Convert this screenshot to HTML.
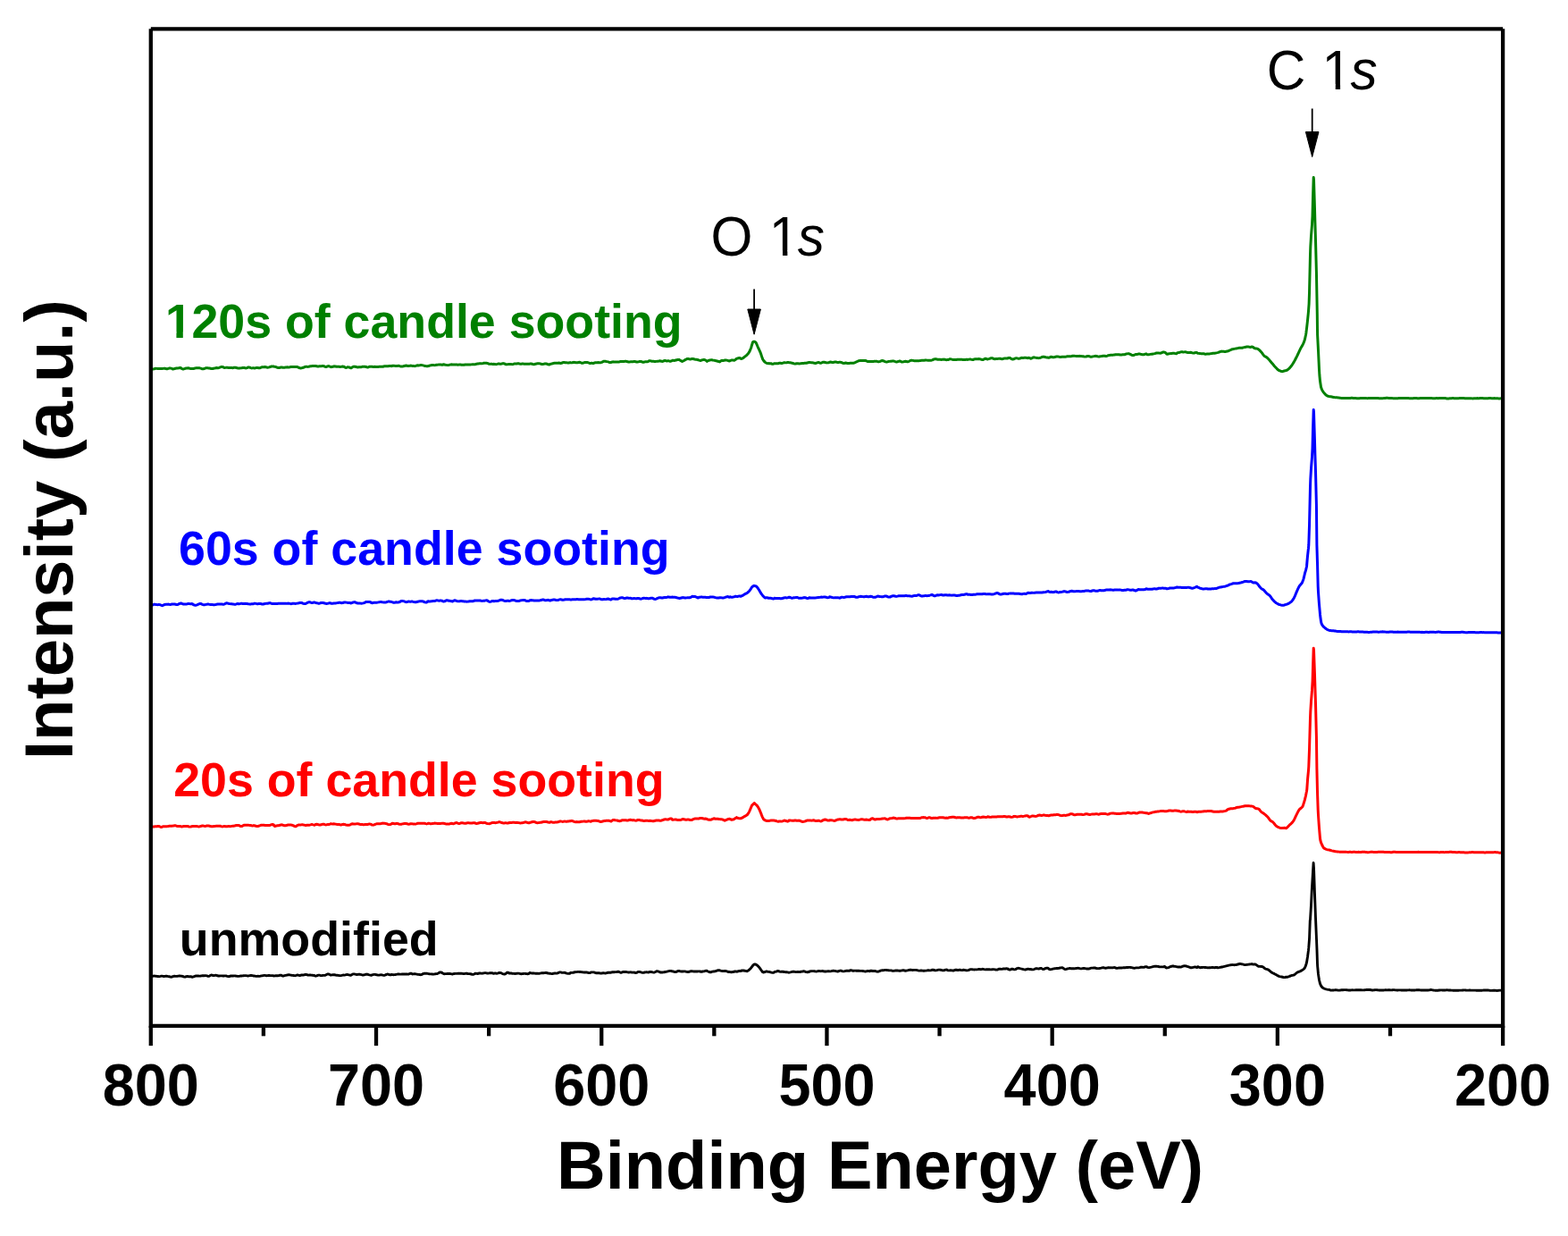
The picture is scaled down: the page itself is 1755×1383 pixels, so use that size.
<!DOCTYPE html>
<html><head><meta charset="utf-8"><title>XPS spectra</title>
<style>html,body{margin:0;padding:0;background:#fff;width:1755px;height:1383px;overflow:hidden}svg{display:block}</style>
</head><body>
<svg width="1755" height="1383" viewBox="0 0 1755 1383" font-family="'Liberation Sans', Arial, sans-serif">
<defs><clipPath id="clip0" clipPathUnits="userSpaceOnUse"><rect x="-3000.00" y="-3000" width="3002.18" height="6000"/><rect x="2.18" y="-3000" width="27.79" height="2993.52"/><rect x="12.84" y="-3000" width="7.37" height="6000"/><rect x="29.98" y="-3000" width="6000.00" height="6000"/></clipPath><clipPath id="clip1" clipPathUnits="userSpaceOnUse"><rect x="-3000.00" y="-3000" width="3068.35" height="6000"/><rect x="68.35" y="-3000" width="28.80" height="2994.50"/><rect x="80.42" y="-3000" width="5.33" height="6000"/><rect x="97.15" y="-3000" width="6000.00" height="6000"/></clipPath><clipPath id="clip2" clipPathUnits="userSpaceOnUse"><rect x="-3000.00" y="-3000" width="3064.99" height="6000"/><rect x="64.99" y="-3000" width="28.80" height="2994.50"/><rect x="77.06" y="-3000" width="5.33" height="6000"/><rect x="93.79" y="-3000" width="6000.00" height="6000"/></clipPath></defs>
<path d="M169.50 1092.93 L170.50 1092.51 L171.50 1092.14 L172.50 1092.03 L173.50 1092.08 L174.50 1092.20 L175.50 1092.41 L176.50 1092.52 L177.50 1092.57 L178.50 1092.59 L179.50 1092.43 L180.50 1092.17 L181.50 1092.14 L182.50 1092.37 L183.50 1092.47 L184.50 1092.34 L185.50 1092.22 L186.50 1092.27 L187.50 1092.43 L188.50 1092.57 L189.50 1092.72 L190.50 1092.98 L191.50 1093.18 L192.50 1093.13 L192.80 1092.88 L193.50 1092.55 L194.50 1092.30 L195.50 1092.25 L196.50 1092.35 L197.50 1092.41 L198.50 1092.31 L199.50 1092.15 L200.50 1092.04 L201.50 1092.01 L202.50 1092.08 L203.50 1092.19 L204.50 1092.41 L205.50 1092.82 L206.50 1093.14 L207.50 1093.03 L208.50 1092.63 L209.50 1092.40 L210.50 1092.55 L211.50 1092.81 L212.50 1092.81 L213.50 1092.78 L214.50 1093.02 L215.50 1093.26 L215.60 1093.22 L216.50 1092.94 L217.50 1092.58 L218.50 1092.21 L219.50 1091.94 L220.50 1091.88 L221.50 1091.95 L222.50 1092.06 L223.50 1092.11 L224.50 1092.05 L225.50 1091.90 L226.50 1091.76 L227.00 1091.72 L227.50 1091.77 L228.50 1091.74 L229.50 1091.65 L230.50 1091.67 L231.50 1091.89 L232.50 1092.24 L233.50 1092.40 L234.50 1092.06 L235.50 1091.37 L236.50 1090.98 L237.50 1091.14 L238.50 1091.52 L239.50 1091.67 L240.50 1091.45 L241.50 1091.24 L242.50 1091.41 L243.50 1091.79 L244.50 1092.01 L245.50 1091.99 L246.50 1091.87 L247.50 1091.83 L248.50 1091.92 L249.50 1092.00 L250.50 1091.98 L251.50 1091.89 L252.50 1091.88 L253.50 1092.05 L254.50 1092.33 L255.50 1092.56 L256.50 1092.54 L257.50 1092.25 L258.50 1091.95 L259.50 1091.87 L260.50 1091.95 L261.20 1091.97 L261.50 1091.91 L262.50 1091.88 L263.50 1091.94 L264.50 1092.08 L265.50 1092.26 L266.50 1092.40 L267.50 1092.37 L268.50 1092.13 L269.50 1091.94 L270.50 1091.93 L271.50 1091.91 L272.50 1091.77 L273.50 1091.66 L274.50 1091.60 L275.50 1091.66 L276.50 1091.85 L277.50 1091.95 L278.50 1091.83 L279.50 1091.62 L280.50 1091.45 L281.50 1091.42 L282.50 1091.61 L283.50 1091.92 L284.00 1092.06 L284.50 1092.02 L285.50 1092.12 L286.50 1092.35 L287.50 1092.36 L288.50 1092.23 L289.50 1092.32 L290.50 1092.38 L291.50 1092.12 L292.50 1091.82 L293.50 1091.71 L294.50 1091.57 L295.50 1091.38 L296.50 1091.41 L297.50 1091.64 L298.50 1091.77 L299.50 1091.67 L300.50 1091.54 L301.50 1091.52 L302.50 1091.59 L303.50 1091.62 L304.50 1091.61 L305.50 1091.72 L306.50 1091.91 L306.80 1091.99 L307.50 1091.91 L308.50 1091.78 L309.50 1091.73 L310.50 1091.75 L311.50 1091.71 L312.50 1091.47 L313.50 1091.14 L314.50 1091.14 L315.50 1091.66 L316.50 1092.07 L317.50 1091.95 L318.50 1091.59 L319.50 1091.33 L320.50 1091.19 L321.50 1091.01 L322.50 1090.82 L323.50 1090.75 L324.50 1090.86 L325.50 1091.06 L326.50 1091.24 L327.50 1091.37 L328.50 1091.51 L329.50 1091.65 L330.50 1091.68 L331.50 1091.41 L332.50 1091.02 L333.50 1091.01 L334.50 1091.37 L335.50 1091.52 L336.50 1091.25 L337.50 1090.95 L338.50 1090.89 L339.50 1090.93 L340.50 1090.87 L341.00 1090.67 L341.50 1090.43 L342.50 1090.40 L343.50 1090.68 L344.50 1091.03 L345.50 1091.14 L346.50 1091.03 L347.50 1090.97 L348.50 1091.08 L349.50 1091.22 L350.50 1091.31 L351.50 1091.46 L352.30 1091.70 L352.50 1091.95 L353.50 1092.07 L354.50 1091.87 L355.50 1091.41 L356.50 1091.09 L357.50 1091.18 L358.50 1091.45 L359.50 1091.61 L360.50 1091.55 L361.50 1091.40 L362.50 1091.33 L363.50 1091.31 L364.50 1091.08 L365.50 1090.51 L366.50 1089.99 L367.50 1089.88 L368.50 1090.18 L369.50 1090.69 L370.00 1091.04 L370.50 1091.00 L371.50 1090.85 L372.50 1090.81 L373.50 1090.75 L374.50 1090.78 L375.50 1091.01 L376.50 1091.19 L377.50 1091.28 L378.50 1091.42 L379.50 1091.56 L380.50 1091.65 L381.50 1091.64 L382.50 1091.44 L383.50 1091.16 L384.50 1091.06 L385.50 1091.08 L386.50 1090.90 L387.50 1090.60 L388.50 1090.47 L389.50 1090.58 L390.50 1090.80 L391.50 1091.06 L392.50 1091.28 L392.80 1091.21 L393.50 1090.73 L394.50 1090.16 L395.50 1089.87 L396.50 1089.87 L397.50 1090.09 L398.50 1090.36 L399.50 1090.48 L400.50 1090.41 L401.50 1090.25 L402.50 1090.16 L403.50 1090.35 L404.50 1090.71 L405.50 1090.95 L406.50 1091.00 L407.50 1090.87 L408.50 1090.55 L409.50 1090.23 L410.50 1090.07 L411.50 1090.24 L412.50 1090.66 L413.50 1090.93 L414.50 1091.08 L415.50 1091.27 L415.60 1091.25 L416.50 1090.95 L417.50 1090.61 L418.50 1090.40 L419.50 1090.39 L420.50 1090.55 L421.50 1090.75 L422.50 1090.95 L423.50 1091.10 L424.50 1091.06 L425.50 1090.90 L426.50 1090.77 L427.50 1090.84 L428.50 1091.13 L429.50 1091.37 L430.50 1091.27 L431.50 1090.86 L432.50 1090.34 L433.50 1090.05 L434.50 1090.18 L435.50 1090.55 L436.50 1090.78 L437.50 1090.73 L438.40 1090.51 L438.50 1090.43 L439.50 1090.57 L440.50 1090.71 L441.50 1090.67 L442.50 1090.54 L443.50 1090.37 L444.50 1090.18 L445.50 1090.03 L446.50 1090.02 L447.50 1090.09 L448.50 1090.12 L449.50 1090.05 L450.50 1089.93 L451.50 1089.88 L452.50 1089.95 L453.50 1090.04 L454.50 1090.03 L455.50 1090.02 L456.50 1090.11 L457.50 1090.00 L458.50 1089.55 L459.50 1089.21 L460.50 1089.29 L461.20 1089.67 L461.50 1089.95 L462.50 1089.89 L463.50 1089.72 L464.50 1089.72 L465.50 1089.86 L466.50 1090.07 L467.50 1090.22 L468.50 1090.32 L469.50 1090.50 L470.50 1090.70 L471.50 1090.58 L472.50 1090.14 L473.50 1089.64 L474.50 1089.28 L475.50 1089.14 L476.50 1089.18 L477.50 1089.27 L478.50 1089.39 L479.50 1089.56 L480.50 1089.77 L481.50 1089.89 L482.50 1089.89 L483.50 1089.94 L484.00 1090.04 L484.50 1090.13 L485.50 1090.12 L486.50 1089.91 L487.50 1089.70 L488.50 1089.67 L489.50 1089.57 L490.50 1089.06 L491.50 1088.36 L492.50 1087.89 L493.50 1087.85 L494.50 1088.29 L495.50 1089.02 L496.50 1089.57 L497.50 1089.72 L498.50 1089.67 L499.50 1089.61 L500.50 1089.56 L501.50 1089.53 L502.50 1089.53 L503.50 1089.54 L504.50 1089.64 L505.50 1089.86 L506.50 1089.99 L506.80 1089.90 L507.50 1089.69 L508.50 1089.47 L509.50 1089.37 L510.50 1089.39 L511.50 1089.36 L512.50 1089.25 L513.50 1089.22 L514.50 1089.28 L515.50 1089.29 L516.50 1089.24 L517.50 1089.35 L518.50 1089.57 L519.50 1089.59 L520.50 1089.32 L521.50 1089.09 L522.50 1089.25 L523.50 1089.51 L524.50 1089.58 L525.50 1089.61 L526.50 1089.76 L527.50 1090.00 L528.50 1090.27 L529.50 1090.36 L530.50 1090.05 L531.50 1089.49 L532.50 1089.22 L533.50 1089.39 L534.50 1089.49 L535.50 1089.24 L536.50 1088.98 L537.50 1089.01 L538.50 1089.17 L539.50 1089.18 L540.50 1089.04 L541.50 1088.83 L542.50 1088.64 L543.50 1088.60 L544.50 1088.80 L545.50 1089.07 L546.50 1089.11 L547.50 1088.94 L548.50 1088.77 L549.50 1088.67 L550.50 1088.70 L551.50 1088.97 L552.30 1089.27 L552.50 1089.27 L553.50 1089.06 L554.50 1089.02 L555.50 1089.18 L556.50 1089.22 L557.50 1088.95 L558.50 1088.54 L559.50 1088.33 L560.50 1088.56 L561.50 1089.08 L562.50 1089.51 L563.50 1089.82 L564.50 1090.03 L565.50 1089.80 L566.50 1089.03 L567.50 1088.29 L568.50 1088.17 L569.50 1088.63 L570.00 1089.04 L570.50 1088.99 L571.50 1088.83 L572.50 1089.03 L573.50 1089.31 L574.50 1089.36 L575.50 1089.42 L576.50 1089.53 L577.50 1089.42 L578.50 1089.21 L579.50 1089.12 L580.50 1089.15 L581.50 1089.31 L582.50 1089.57 L583.50 1089.71 L584.50 1089.61 L585.50 1089.47 L586.50 1089.39 L587.50 1089.37 L588.50 1089.46 L589.50 1089.64 L590.50 1089.76 L591.50 1089.60 L592.50 1089.07 L592.80 1088.56 L593.50 1088.56 L594.50 1088.86 L595.50 1088.98 L596.50 1088.93 L597.50 1088.94 L598.50 1089.07 L599.50 1089.22 L600.50 1089.30 L601.50 1089.32 L602.50 1089.32 L603.50 1089.23 L604.50 1089.06 L605.50 1088.89 L606.50 1088.71 L607.50 1088.65 L608.50 1088.68 L609.50 1088.62 L610.50 1088.51 L611.50 1088.53 L612.50 1088.75 L613.50 1089.06 L614.50 1089.18 L615.50 1089.13 L615.60 1089.19 L616.50 1089.44 L617.50 1089.62 L618.50 1089.48 L619.50 1089.21 L620.50 1089.06 L621.50 1089.04 L622.50 1089.12 L623.50 1089.09 L624.50 1088.73 L625.50 1088.18 L626.50 1087.84 L627.50 1087.92 L628.50 1088.21 L629.50 1088.37 L630.50 1088.33 L631.50 1088.25 L632.50 1088.41 L633.50 1088.82 L634.50 1089.18 L635.50 1089.35 L636.50 1089.42 L637.50 1089.33 L638.40 1088.96 L638.50 1088.55 L639.50 1088.39 L640.50 1088.38 L641.50 1088.28 L642.50 1088.03 L643.50 1087.78 L644.50 1087.68 L645.50 1087.58 L646.50 1087.40 L647.50 1087.36 L648.50 1087.45 L649.50 1087.54 L650.50 1087.64 L651.50 1087.74 L652.50 1087.84 L653.50 1087.94 L654.50 1087.98 L655.50 1087.97 L656.50 1088.00 L657.50 1088.18 L658.50 1088.50 L659.50 1088.67 L660.50 1088.49 L661.20 1088.14 L661.50 1087.93 L662.50 1087.86 L663.50 1087.83 L664.50 1087.92 L665.50 1088.21 L666.50 1088.55 L667.50 1088.77 L668.50 1088.73 L669.50 1088.60 L670.50 1088.70 L671.50 1088.96 L672.50 1089.07 L673.50 1088.99 L674.50 1088.81 L675.50 1088.70 L676.50 1088.84 L677.50 1089.02 L678.50 1088.87 L679.50 1088.50 L680.50 1088.27 L681.50 1088.23 L682.50 1088.23 L683.50 1088.23 L684.00 1088.17 L684.50 1087.95 L685.50 1087.80 L686.50 1087.82 L687.50 1087.80 L688.50 1087.67 L689.50 1087.59 L690.50 1087.48 L691.50 1087.27 L692.50 1087.32 L693.50 1087.79 L694.50 1088.24 L695.50 1088.20 L696.50 1087.80 L697.50 1087.47 L698.50 1087.39 L699.50 1087.43 L700.50 1087.47 L701.50 1087.63 L702.50 1087.87 L703.50 1087.98 L704.50 1087.93 L705.50 1087.82 L706.50 1087.84 L706.80 1087.97 L707.50 1088.07 L708.50 1088.09 L709.50 1088.06 L710.50 1088.25 L711.50 1088.56 L712.50 1088.39 L713.50 1087.78 L714.50 1087.35 L715.50 1087.33 L716.50 1087.58 L717.50 1087.91 L718.50 1088.21 L719.50 1088.33 L720.50 1088.21 L721.50 1088.01 L722.50 1087.84 L723.50 1087.76 L724.50 1087.84 L725.50 1087.95 L726.50 1087.81 L727.50 1087.46 L728.50 1087.33 L729.50 1087.58 L730.50 1087.93 L731.50 1088.08 L732.50 1087.94 L733.50 1087.52 L734.50 1087.00 L735.50 1086.69 L736.50 1086.82 L737.50 1087.27 L738.50 1087.74 L739.50 1088.00 L740.50 1088.05 L741.50 1088.01 L742.50 1087.91 L743.50 1087.71 L744.50 1087.51 L745.50 1087.31 L746.50 1087.07 L747.50 1086.83 L748.50 1086.59 L749.50 1086.38 L750.50 1086.35 L751.50 1086.54 L752.30 1086.75 L752.50 1086.83 L753.50 1086.98 L754.50 1087.30 L755.50 1087.55 L756.50 1087.53 L757.50 1087.18 L758.50 1086.64 L759.50 1086.34 L760.50 1086.53 L761.50 1086.87 L762.50 1087.02 L763.50 1087.03 L764.50 1086.96 L765.50 1086.84 L766.50 1086.88 L767.50 1087.14 L768.50 1087.40 L769.50 1087.51 L770.00 1087.52 L770.50 1087.45 L771.50 1087.28 L772.50 1086.96 L773.50 1086.67 L774.50 1086.68 L775.50 1086.91 L776.50 1087.03 L777.50 1087.02 L778.50 1087.02 L779.50 1087.02 L780.50 1086.97 L781.50 1086.87 L782.50 1086.83 L783.50 1086.99 L784.50 1087.23 L785.50 1087.23 L786.50 1087.03 L787.50 1086.86 L788.50 1086.70 L789.50 1086.45 L790.00 1086.18 L790.50 1086.15 L791.50 1086.47 L792.50 1086.99 L793.50 1087.47 L794.50 1087.75 L795.50 1087.75 L796.50 1087.48 L797.50 1087.12 L798.50 1086.97 L799.50 1086.94 L800.50 1086.76 L801.50 1086.41 L802.50 1086.03 L803.50 1085.72 L804.50 1085.58 L805.50 1085.75 L806.50 1086.11 L807.50 1086.40 L808.50 1086.54 L809.50 1086.64 L810.00 1086.65 L810.50 1086.48 L811.50 1086.37 L812.50 1086.49 L813.50 1086.85 L814.50 1087.25 L815.50 1087.47 L816.50 1087.55 L817.50 1087.64 L818.00 1087.71 L818.50 1087.73 L819.50 1087.68 L820.50 1087.53 L821.50 1087.24 L822.50 1086.99 L823.50 1087.02 L824.50 1087.19 L825.50 1087.06 L826.50 1086.68 L827.50 1086.48 L828.50 1086.53 L829.10 1086.50 L829.50 1086.24 L830.50 1086.00 L831.50 1085.96 L832.50 1086.06 L833.50 1086.20 L834.50 1086.36 L835.50 1086.59 L836.30 1086.75 L836.50 1086.58 L837.50 1086.00 L838.50 1085.21 L839.50 1084.21 L840.30 1083.40 L840.50 1083.19 L841.50 1081.81 L842.50 1080.50 L843.50 1079.43 L844.30 1078.85 L844.50 1078.88 L845.50 1079.04 L846.50 1079.46 L847.50 1080.20 L848.50 1081.10 L849.50 1082.16 L849.90 1082.60 L850.50 1083.35 L851.50 1084.82 L852.00 1085.50 L852.50 1086.22 L853.50 1087.68 L854.30 1087.96 L854.50 1087.82 L855.50 1087.80 L856.50 1087.44 L857.50 1087.01 L857.90 1086.91 L858.50 1087.04 L859.50 1087.21 L860.50 1087.34 L861.50 1087.54 L862.50 1087.85 L863.50 1088.17 L864.50 1088.41 L865.50 1088.33 L866.50 1087.84 L867.50 1087.32 L868.50 1087.11 L869.50 1086.99 L869.80 1086.67 L870.50 1086.43 L871.50 1086.68 L872.50 1087.16 L873.50 1087.34 L874.50 1087.21 L875.50 1087.14 L876.50 1087.26 L877.50 1087.46 L878.50 1087.65 L879.50 1087.76 L880.50 1087.79 L881.50 1087.91 L882.50 1088.11 L882.80 1088.21 L883.50 1088.12 L884.50 1087.91 L885.50 1087.64 L886.50 1087.34 L887.50 1087.16 L888.50 1087.21 L889.50 1087.44 L890.50 1087.66 L891.50 1087.65 L892.50 1087.46 L893.50 1087.49 L894.50 1087.65 L895.50 1087.54 L896.50 1087.26 L897.50 1087.12 L898.50 1086.96 L899.50 1086.78 L900.50 1086.90 L901.50 1087.28 L902.50 1087.62 L903.50 1087.74 L904.50 1087.68 L905.50 1087.48 L905.60 1087.15 L906.50 1086.83 L907.50 1086.70 L908.50 1086.66 L909.50 1086.64 L910.50 1086.67 L911.50 1086.74 L912.50 1086.92 L913.50 1087.08 L914.50 1086.93 L915.50 1086.57 L916.50 1086.44 L917.50 1086.57 L918.50 1086.68 L919.50 1086.62 L920.50 1086.55 L921.50 1086.70 L922.50 1086.95 L923.50 1087.04 L924.50 1086.97 L925.50 1086.85 L926.50 1086.81 L927.50 1086.81 L928.40 1086.84 L928.50 1086.92 L929.50 1086.91 L930.50 1086.69 L931.50 1086.40 L932.50 1086.28 L933.50 1086.32 L934.50 1086.41 L935.50 1086.63 L936.50 1086.92 L937.50 1087.01 L938.50 1086.77 L939.50 1086.34 L940.50 1086.07 L941.50 1086.18 L942.50 1086.54 L943.50 1086.87 L944.50 1086.90 L945.50 1086.65 L946.50 1086.32 L947.50 1086.14 L948.50 1086.19 L949.50 1086.32 L950.50 1086.30 L951.20 1086.04 L951.50 1085.75 L952.50 1085.71 L953.50 1085.96 L954.50 1086.23 L955.50 1086.28 L956.50 1086.16 L957.50 1086.10 L958.50 1086.19 L959.50 1086.30 L960.50 1086.31 L961.50 1086.30 L962.50 1086.34 L963.50 1086.38 L964.50 1086.37 L965.50 1086.45 L966.50 1086.67 L967.50 1086.92 L968.50 1087.03 L969.50 1086.86 L970.50 1086.53 L971.50 1086.40 L972.50 1086.62 L973.50 1086.69 L974.00 1086.36 L974.50 1086.10 L975.50 1086.24 L976.50 1086.49 L977.50 1086.49 L978.50 1086.39 L979.50 1086.48 L980.50 1086.77 L981.50 1087.09 L982.50 1087.20 L983.50 1087.00 L984.50 1086.61 L985.50 1086.21 L986.50 1085.87 L987.50 1085.70 L988.50 1085.69 L989.50 1085.60 L990.50 1085.40 L991.50 1085.35 L992.50 1085.49 L993.50 1085.65 L994.50 1085.77 L995.50 1085.87 L996.50 1085.91 L996.80 1085.87 L997.50 1085.93 L998.50 1086.22 L999.50 1086.40 L1000.50 1086.31 L1001.50 1086.14 L1002.50 1085.96 L1003.50 1085.85 L1004.50 1085.94 L1005.50 1086.15 L1006.50 1086.28 L1007.50 1086.26 L1008.50 1086.08 L1009.50 1085.82 L1010.50 1085.65 L1011.50 1085.72 L1012.50 1086.02 L1013.50 1086.25 L1014.50 1086.15 L1015.50 1085.89 L1016.50 1085.65 L1017.50 1085.33 L1018.50 1085.10 L1019.50 1085.19 L1020.50 1085.41 L1021.50 1085.50 L1022.50 1085.42 L1023.50 1085.36 L1024.50 1085.38 L1025.50 1085.42 L1026.50 1085.60 L1027.50 1085.90 L1028.50 1086.12 L1029.50 1086.10 L1030.50 1085.96 L1031.50 1085.96 L1032.50 1086.11 L1033.50 1086.19 L1034.50 1086.19 L1035.50 1086.16 L1036.50 1086.11 L1037.50 1085.94 L1038.50 1085.73 L1039.50 1085.74 L1040.50 1085.87 L1041.50 1085.84 L1042.30 1085.67 L1042.50 1085.45 L1043.50 1085.28 L1044.50 1085.28 L1045.50 1085.49 L1046.50 1085.73 L1047.50 1085.83 L1048.50 1085.67 L1049.50 1085.36 L1050.50 1085.17 L1051.50 1085.12 L1052.50 1085.20 L1053.50 1085.41 L1054.50 1085.71 L1055.50 1085.90 L1056.50 1085.77 L1057.50 1085.42 L1058.50 1085.16 L1059.50 1085.06 L1060.00 1085.19 L1060.50 1085.58 L1061.50 1085.89 L1062.50 1085.89 L1063.50 1085.77 L1064.50 1085.76 L1065.50 1085.87 L1066.50 1086.04 L1067.50 1085.98 L1068.50 1085.55 L1069.50 1085.18 L1070.50 1085.24 L1071.50 1085.51 L1072.50 1085.53 L1073.50 1085.32 L1074.50 1085.27 L1075.50 1085.44 L1076.50 1085.57 L1077.50 1085.48 L1078.50 1085.30 L1079.50 1085.35 L1080.50 1085.59 L1081.50 1085.77 L1082.50 1085.83 L1082.80 1085.81 L1083.50 1085.66 L1084.50 1085.35 L1085.50 1084.94 L1086.50 1084.61 L1087.50 1084.58 L1088.50 1084.77 L1089.50 1084.90 L1090.50 1084.93 L1091.50 1084.91 L1092.50 1084.89 L1093.50 1084.85 L1094.50 1084.69 L1095.50 1084.47 L1096.50 1084.49 L1097.50 1084.69 L1098.50 1084.57 L1099.50 1084.30 L1100.50 1084.38 L1101.50 1084.68 L1102.50 1084.83 L1103.50 1084.79 L1104.50 1084.69 L1105.50 1084.67 L1105.60 1084.70 L1106.50 1084.71 L1107.50 1084.78 L1108.50 1084.89 L1109.50 1084.87 L1110.50 1084.71 L1111.50 1084.61 L1112.50 1084.66 L1113.50 1084.81 L1114.50 1085.01 L1115.50 1085.14 L1116.50 1084.96 L1117.50 1084.47 L1118.50 1084.11 L1119.50 1084.19 L1120.50 1084.39 L1121.50 1084.33 L1122.50 1084.05 L1123.50 1083.90 L1124.50 1083.96 L1125.50 1083.95 L1126.50 1083.80 L1127.50 1083.83 L1128.40 1084.15 L1128.50 1084.64 L1129.50 1085.01 L1130.50 1085.03 L1131.50 1084.63 L1132.50 1084.18 L1133.50 1084.21 L1134.50 1084.65 L1135.50 1084.89 L1136.50 1084.66 L1137.50 1084.14 L1138.50 1083.58 L1139.50 1083.28 L1140.50 1083.38 L1141.50 1083.66 L1142.50 1083.89 L1143.50 1084.06 L1144.50 1084.32 L1145.50 1084.66 L1146.50 1084.91 L1147.50 1084.95 L1148.50 1084.77 L1149.50 1084.42 L1150.50 1084.18 L1151.20 1084.20 L1151.50 1084.34 L1152.50 1084.45 L1153.50 1084.55 L1154.50 1084.73 L1155.50 1084.92 L1156.50 1084.87 L1157.50 1084.49 L1158.50 1084.04 L1159.50 1083.72 L1160.50 1083.66 L1161.50 1083.87 L1162.50 1084.00 L1163.50 1083.75 L1164.50 1083.44 L1165.50 1083.55 L1166.50 1084.08 L1167.50 1084.51 L1168.50 1084.40 L1169.50 1083.88 L1170.50 1083.42 L1171.50 1083.18 L1172.50 1083.21 L1173.50 1083.62 L1174.00 1084.23 L1174.50 1084.62 L1175.50 1084.70 L1176.50 1084.60 L1177.50 1084.35 L1178.50 1084.06 L1179.50 1083.84 L1180.50 1083.72 L1181.50 1083.60 L1182.50 1083.50 L1183.50 1083.46 L1184.50 1083.43 L1185.50 1083.26 L1186.50 1083.03 L1187.50 1082.86 L1188.50 1082.78 L1189.50 1083.00 L1190.50 1083.65 L1191.50 1084.38 L1192.50 1084.67 L1193.50 1084.41 L1194.50 1084.02 L1195.50 1083.81 L1196.50 1083.59 L1196.80 1083.40 L1197.50 1083.50 L1198.50 1083.68 L1199.50 1083.72 L1200.50 1083.74 L1201.50 1083.82 L1202.50 1083.82 L1203.50 1083.64 L1204.50 1083.45 L1205.50 1083.36 L1206.50 1083.30 L1207.50 1083.37 L1208.50 1083.65 L1209.50 1083.85 L1210.50 1083.84 L1211.50 1083.69 L1212.50 1083.54 L1213.50 1083.51 L1214.50 1083.65 L1215.50 1083.88 L1216.50 1084.04 L1217.50 1084.06 L1218.50 1084.01 L1219.50 1083.81 L1220.50 1083.39 L1221.50 1083.14 L1222.50 1083.13 L1223.50 1083.04 L1224.50 1082.90 L1225.50 1082.98 L1226.50 1083.24 L1227.50 1083.47 L1228.50 1083.59 L1229.50 1083.62 L1230.50 1083.52 L1231.50 1083.33 L1232.50 1083.10 L1233.50 1082.82 L1234.50 1082.63 L1235.50 1082.78 L1236.50 1083.11 L1237.50 1083.28 L1238.50 1083.13 L1239.50 1082.81 L1240.50 1082.62 L1241.50 1082.73 L1242.30 1082.89 L1242.50 1082.87 L1243.50 1082.82 L1244.50 1082.83 L1245.50 1082.77 L1246.50 1082.58 L1247.50 1082.56 L1248.50 1082.95 L1249.50 1083.36 L1250.50 1083.36 L1251.50 1083.10 L1252.50 1082.93 L1253.50 1082.92 L1254.50 1082.96 L1255.50 1082.97 L1256.50 1082.91 L1257.50 1082.81 L1258.50 1082.80 L1259.50 1082.80 L1260.00 1082.68 L1260.50 1082.56 L1261.50 1082.53 L1262.50 1082.46 L1263.50 1082.39 L1264.50 1082.41 L1265.50 1082.49 L1266.50 1082.61 L1267.50 1082.86 L1268.50 1083.18 L1269.50 1083.31 L1270.50 1083.14 L1271.50 1082.91 L1272.50 1082.83 L1273.50 1082.88 L1274.50 1082.87 L1275.50 1082.62 L1276.50 1082.28 L1277.50 1082.11 L1278.50 1082.19 L1279.50 1082.33 L1280.50 1082.25 L1281.50 1081.92 L1282.50 1081.63 L1282.80 1081.62 L1283.50 1081.91 L1284.50 1082.38 L1285.50 1082.67 L1286.50 1082.63 L1287.50 1082.41 L1288.50 1082.19 L1289.50 1081.93 L1290.50 1081.62 L1291.50 1081.36 L1292.50 1081.22 L1293.50 1081.23 L1294.50 1081.29 L1295.50 1081.35 L1296.50 1081.49 L1297.50 1081.71 L1298.50 1081.87 L1299.50 1081.91 L1300.50 1081.90 L1301.50 1081.85 L1302.50 1081.72 L1303.30 1081.53 L1303.50 1081.50 L1304.50 1082.24 L1305.50 1083.00 L1305.60 1083.05 L1306.50 1082.91 L1307.50 1082.67 L1308.50 1082.29 L1309.50 1081.84 L1310.50 1081.48 L1311.50 1081.22 L1312.50 1081.02 L1313.50 1081.01 L1313.60 1081.22 L1314.50 1081.31 L1315.50 1081.35 L1316.50 1081.57 L1317.50 1081.91 L1318.50 1082.03 L1319.50 1081.93 L1320.50 1081.96 L1321.50 1082.05 L1322.50 1081.81 L1323.50 1081.33 L1324.50 1080.97 L1325.50 1080.81 L1326.50 1080.82 L1327.50 1080.99 L1328.40 1081.22 L1328.50 1081.41 L1329.50 1081.66 L1330.50 1081.95 L1331.50 1082.29 L1332.50 1082.63 L1332.90 1082.79 L1333.50 1082.80 L1334.50 1082.63 L1335.50 1082.36 L1336.50 1082.10 L1337.50 1082.01 L1338.50 1082.18 L1339.50 1082.54 L1339.80 1082.54 L1340.50 1081.72 L1341.50 1081.95 L1342.50 1082.46 L1343.50 1082.80 L1343.60 1082.65 L1344.50 1082.49 L1345.50 1082.44 L1346.50 1082.42 L1347.50 1082.40 L1348.50 1082.43 L1349.50 1082.52 L1350.50 1082.63 L1351.20 1082.76 L1351.50 1082.85 L1352.50 1082.82 L1353.50 1082.74 L1354.50 1082.70 L1355.50 1082.59 L1356.50 1082.47 L1357.50 1082.50 L1358.50 1082.66 L1359.50 1082.71 L1360.50 1082.55 L1361.50 1082.43 L1362.50 1082.55 L1362.60 1082.81 L1363.50 1082.85 L1364.50 1082.65 L1365.50 1082.40 L1366.50 1082.20 L1367.50 1082.04 L1368.30 1081.94 L1368.50 1081.90 L1369.50 1081.67 L1370.50 1081.43 L1371.50 1081.18 L1372.50 1080.92 L1373.50 1080.65 L1374.50 1080.36 L1375.50 1080.09 L1376.50 1079.89 L1377.40 1079.77 L1377.50 1079.74 L1378.50 1079.59 L1379.50 1079.57 L1380.50 1079.66 L1381.50 1079.70 L1382.50 1079.64 L1383.50 1079.49 L1384.50 1079.26 L1385.50 1079.00 L1386.50 1078.74 L1387.50 1078.54 L1388.50 1078.54 L1388.80 1078.67 L1389.50 1078.76 L1390.50 1078.92 L1391.50 1079.19 L1392.50 1079.46 L1393.50 1079.59 L1394.50 1079.53 L1395.50 1079.39 L1396.50 1079.27 L1397.50 1079.12 L1398.50 1078.98 L1399.50 1078.90 L1400.00 1078.85 L1400.50 1078.76 L1401.50 1078.78 L1402.50 1078.96 L1403.50 1079.07 L1404.50 1079.01 L1404.60 1078.89 L1405.50 1079.24 L1406.50 1079.91 L1407.50 1080.65 L1408.50 1081.20 L1409.30 1081.33 L1409.50 1081.34 L1410.50 1081.42 L1411.50 1081.54 L1412.10 1081.54 L1412.50 1081.52 L1413.50 1081.95 L1414.50 1082.73 L1415.50 1083.51 L1416.20 1083.98 L1416.50 1084.08 L1417.50 1084.33 L1418.50 1084.57 L1419.10 1084.81 L1419.50 1085.01 L1420.50 1085.73 L1421.50 1086.62 L1422.50 1087.48 L1423.10 1087.90 L1423.50 1088.14 L1424.50 1088.69 L1425.50 1089.17 L1426.50 1089.66 L1426.60 1089.72 L1427.50 1090.20 L1428.50 1090.78 L1429.50 1091.37 L1430.50 1091.93 L1431.50 1092.39 L1432.40 1092.66 L1432.50 1092.65 L1433.50 1092.83 L1434.50 1093.02 L1435.50 1093.24 L1436.50 1093.48 L1437.50 1093.61 L1438.50 1093.48 L1439.30 1093.26 L1439.50 1093.22 L1440.50 1093.24 L1441.50 1093.06 L1442.50 1092.74 L1443.50 1092.39 L1444.00 1092.11 L1444.50 1091.82 L1445.50 1091.53 L1446.50 1091.34 L1447.50 1091.12 L1448.00 1091.02 L1448.50 1090.85 L1449.50 1090.13 L1450.50 1089.24 L1451.50 1088.39 L1452.10 1088.00 L1452.50 1087.81 L1453.50 1087.39 L1454.50 1087.02 L1455.50 1086.63 L1456.50 1086.13 L1456.70 1086.01 L1457.50 1085.54 L1458.50 1084.87 L1459.50 1084.00 L1460.20 1083.20 L1460.50 1082.75 L1461.50 1080.45 L1462.50 1077.00 L1463.50 1070.82 L1463.60 1070.10 L1464.50 1063.15 L1464.80 1060.20 L1465.50 1050.53 L1465.60 1048.70 L1466.30 1029.60 L1466.35 1029.60 L1466.50 1029.20 L1467.50 1012.57 L1468.20 997.70 L1468.50 992.57 L1469.50 975.59 L1469.60 973.90 L1470.10 965.50 L1470.50 971.68 L1470.60 973.90 L1471.40 997.70 L1471.50 1000.50 L1472.50 1027.07 L1472.60 1029.60 L1473.50 1050.74 L1474.00 1063.10 L1474.50 1078.51 L1474.60 1080.50 L1475.50 1090.01 L1475.80 1092.10 L1476.50 1096.49 L1477.50 1100.70 L1478.50 1102.87 L1479.50 1104.40 L1480.40 1105.20 L1480.50 1105.26 L1481.50 1105.80 L1482.50 1106.24 L1483.50 1106.60 L1484.50 1106.92 L1485.50 1107.19 L1486.50 1107.35 L1487.50 1107.39 L1487.70 1107.48 L1488.50 1107.74 L1489.50 1107.97 L1490.50 1108.07 L1491.50 1108.04 L1492.50 1107.96 L1493.50 1107.87 L1494.50 1107.80 L1495.50 1107.77 L1496.50 1107.84 L1497.50 1108.00 L1498.50 1108.12 L1499.50 1108.11 L1500.00 1107.98 L1500.50 1107.86 L1501.50 1107.77 L1502.50 1107.71 L1503.50 1107.68 L1504.00 1107.65 L1504.50 1107.61 L1505.50 1107.58 L1506.50 1107.63 L1507.50 1107.76 L1508.50 1107.92 L1509.50 1108.01 L1510.50 1108.01 L1511.50 1107.94 L1512.50 1107.85 L1513.50 1107.81 L1514.50 1107.84 L1515.50 1107.90 L1516.50 1107.87 L1517.50 1107.77 L1518.50 1107.72 L1519.50 1107.77 L1520.50 1107.81 L1521.50 1107.80 L1522.50 1107.77 L1523.50 1107.77 L1524.50 1107.83 L1525.50 1107.88 L1526.50 1107.83 L1527.50 1107.70 L1528.50 1107.59 L1529.50 1107.54 L1530.50 1107.54 L1531.50 1107.55 L1532.50 1107.50 L1533.50 1107.52 L1534.50 1107.72 L1535.50 1107.94 L1536.50 1108.00 L1537.50 1107.90 L1538.50 1107.73 L1539.50 1107.59 L1540.50 1107.61 L1541.50 1107.76 L1542.50 1107.91 L1543.50 1107.99 L1544.50 1108.00 L1545.50 1108.00 L1546.50 1108.03 L1547.50 1108.04 L1548.50 1107.98 L1549.50 1107.88 L1550.50 1107.82 L1551.50 1107.82 L1552.50 1107.83 L1553.50 1107.79 L1554.50 1107.74 L1555.50 1107.75 L1556.50 1107.84 L1557.50 1107.89 L1558.50 1107.77 L1559.50 1107.63 L1560.50 1107.67 L1561.50 1107.84 L1562.50 1107.92 L1563.50 1107.94 L1564.50 1107.95 L1565.50 1107.91 L1566.50 1107.88 L1567.50 1107.92 L1568.50 1107.95 L1569.50 1107.95 L1570.50 1107.94 L1571.50 1107.95 L1572.50 1107.98 L1573.50 1108.01 L1574.50 1107.99 L1575.50 1107.92 L1576.50 1107.84 L1577.50 1107.81 L1578.50 1107.88 L1579.50 1107.97 L1580.50 1108.01 L1581.50 1108.00 L1582.50 1107.98 L1583.50 1107.93 L1584.50 1107.87 L1585.50 1107.79 L1586.50 1107.71 L1587.50 1107.69 L1588.50 1107.75 L1589.50 1107.86 L1590.50 1107.94 L1591.50 1107.98 L1592.50 1108.03 L1593.50 1108.05 L1594.50 1108.04 L1595.50 1108.04 L1596.50 1108.06 L1597.50 1108.04 L1598.50 1107.98 L1599.50 1107.92 L1600.00 1107.82 L1600.50 1107.65 L1601.50 1107.56 L1602.50 1107.66 L1603.50 1107.86 L1604.50 1108.02 L1605.50 1108.12 L1606.50 1108.21 L1607.50 1108.29 L1608.50 1108.31 L1609.50 1108.20 L1610.50 1108.06 L1611.50 1107.97 L1612.50 1107.91 L1613.50 1107.89 L1614.50 1107.93 L1615.50 1108.00 L1616.50 1108.04 L1617.50 1107.98 L1618.50 1107.86 L1619.50 1107.81 L1620.50 1107.85 L1621.50 1107.96 L1622.50 1108.04 L1623.50 1108.07 L1624.50 1108.09 L1625.50 1108.17 L1626.50 1108.28 L1627.50 1108.32 L1628.50 1108.29 L1629.50 1108.25 L1630.50 1108.25 L1631.50 1108.23 L1632.50 1108.20 L1633.50 1108.17 L1634.50 1108.12 L1635.50 1108.08 L1636.50 1108.06 L1637.50 1107.99 L1638.50 1107.88 L1639.50 1107.88 L1640.50 1108.02 L1641.50 1108.15 L1642.50 1108.14 L1643.50 1108.08 L1644.50 1108.07 L1645.50 1108.07 L1646.50 1108.08 L1647.50 1108.12 L1648.50 1108.16 L1649.50 1108.12 L1650.50 1108.09 L1651.50 1108.18 L1652.50 1108.27 L1653.50 1108.26 L1654.50 1108.23 L1655.50 1108.24 L1656.50 1108.26 L1657.50 1108.27 L1658.50 1108.21 L1659.50 1108.11 L1660.50 1108.07 L1661.50 1108.07 L1662.50 1108.05 L1663.50 1107.96 L1664.50 1107.91 L1665.50 1107.97 L1666.50 1108.13 L1667.50 1108.28 L1668.50 1108.34 L1669.50 1108.35 L1670.50 1108.31 L1671.50 1108.22 L1672.50 1108.18 L1673.50 1108.24 L1674.50 1108.37 L1675.50 1108.43 L1676.50 1108.36 L1677.50 1108.23 L1678.50 1108.16 L1679.50 1108.17 L1680.50 1108.19 L1681.50 1108.19 L1682.00 1108.18" fill="none" stroke="#000000" stroke-width="2.90" stroke-linejoin="round" stroke-linecap="round"/>
<path d="M169.50 925.12 L170.50 924.99 L171.50 924.94 L172.50 924.93 L173.50 924.81 L174.50 924.73 L175.50 924.68 L176.50 924.53 L177.50 924.48 L178.50 924.78 L179.50 925.28 L180.50 925.49 L181.50 925.20 L182.50 924.82 L183.50 924.69 L184.50 924.72 L185.50 924.82 L186.50 924.83 L187.50 924.64 L188.50 924.42 L189.50 924.33 L190.50 924.35 L191.50 924.33 L192.50 924.24 L192.80 924.18 L193.50 924.11 L194.50 923.93 L195.50 923.77 L196.50 923.84 L197.50 924.19 L198.50 924.56 L199.50 924.59 L200.50 924.38 L201.50 924.45 L202.50 924.81 L203.50 925.00 L204.50 924.82 L205.50 924.56 L206.50 924.51 L207.50 924.58 L208.50 924.56 L209.50 924.49 L210.50 924.61 L211.50 924.96 L212.50 925.12 L213.50 924.95 L214.50 924.70 L215.50 924.50 L215.60 924.42 L216.50 924.54 L217.50 924.62 L218.50 924.53 L219.50 924.46 L220.50 924.60 L221.50 924.83 L222.50 924.89 L223.50 924.77 L224.50 924.57 L225.50 924.29 L226.50 924.05 L227.50 924.10 L228.50 924.32 L229.50 924.41 L230.50 924.26 L231.50 924.07 L232.50 924.02 L233.50 924.08 L234.50 924.26 L235.50 924.59 L236.50 924.80 L237.50 924.83 L238.40 924.78 L238.50 924.67 L239.50 924.55 L240.50 924.48 L241.50 924.35 L242.50 924.17 L243.50 924.17 L244.50 924.19 L245.50 924.13 L246.50 924.27 L247.50 924.64 L248.50 924.93 L249.50 924.87 L250.50 924.58 L251.50 924.52 L252.50 924.75 L253.50 924.85 L254.50 924.70 L255.50 924.60 L256.50 924.62 L257.50 924.64 L258.50 924.58 L259.50 924.39 L260.50 924.21 L261.20 924.22 L261.50 924.28 L262.50 924.10 L263.50 923.81 L264.50 923.57 L265.50 923.51 L266.50 923.48 L266.90 923.44 L267.50 923.63 L268.50 924.13 L269.50 924.60 L270.50 924.58 L271.50 924.07 L272.50 923.54 L273.50 923.28 L274.50 923.22 L275.50 923.19 L276.50 923.19 L277.50 923.26 L278.50 923.35 L279.50 923.39 L280.50 923.51 L281.50 923.81 L282.50 923.95 L283.50 923.74 L284.00 923.57 L284.50 923.71 L285.50 923.97 L286.50 924.23 L287.50 924.46 L288.50 924.48 L289.50 924.21 L290.50 923.87 L291.50 923.57 L292.50 923.32 L293.50 923.20 L294.50 923.21 L295.50 923.31 L296.50 923.50 L297.50 923.61 L298.50 923.55 L299.50 923.48 L300.50 923.53 L301.50 923.51 L302.50 923.21 L303.50 922.83 L304.50 922.56 L305.50 922.58 L306.50 923.15 L306.80 924.00 L307.50 924.41 L308.50 924.23 L309.50 923.90 L310.50 923.77 L311.50 923.74 L312.50 923.59 L313.50 923.25 L314.50 922.89 L315.50 922.82 L316.50 923.16 L317.50 923.56 L318.50 923.75 L319.50 923.76 L320.50 923.60 L321.50 923.28 L322.50 923.07 L323.50 923.02 L324.50 922.94 L325.50 922.92 L326.50 923.16 L327.50 923.52 L328.50 923.90 L329.50 924.42 L330.50 924.76 L331.50 924.48 L332.50 923.76 L333.50 923.20 L334.50 923.09 L335.50 923.12 L336.50 922.99 L337.50 922.87 L338.50 922.87 L339.50 922.94 L340.50 923.13 L341.50 923.43 L342.50 923.52 L343.50 923.32 L344.50 923.14 L345.50 923.16 L346.50 923.14 L347.50 922.87 L348.50 922.57 L349.50 922.58 L350.50 922.88 L351.50 923.15 L352.30 923.16 L352.50 922.85 L353.50 922.40 L354.50 922.22 L355.50 922.47 L356.50 922.88 L357.50 923.08 L358.50 923.04 L359.50 922.82 L360.50 922.43 L361.50 922.14 L362.50 922.23 L363.50 922.60 L364.50 922.88 L365.50 922.81 L366.50 922.60 L367.50 922.53 L368.50 922.41 L369.50 922.11 L370.00 921.84 L370.50 921.78 L371.50 921.88 L372.50 921.88 L373.50 921.82 L374.50 921.92 L375.50 922.15 L376.50 922.34 L377.50 922.47 L378.50 922.48 L379.50 922.49 L380.50 922.72 L381.50 922.93 L382.50 922.76 L383.50 922.41 L384.50 922.26 L385.50 922.41 L386.50 922.78 L387.50 923.12 L388.50 923.28 L389.50 923.29 L390.50 923.21 L391.50 923.02 L392.50 922.67 L392.80 922.24 L393.50 921.92 L394.50 921.79 L395.50 921.92 L396.50 922.12 L397.50 922.09 L398.50 921.85 L399.50 921.63 L400.50 921.65 L401.50 921.94 L402.50 922.27 L403.50 922.48 L404.50 922.57 L405.50 922.60 L406.50 922.66 L407.50 922.65 L408.50 922.57 L409.50 922.56 L410.50 922.59 L411.50 922.46 L412.50 922.13 L413.50 921.93 L414.50 922.12 L415.50 922.46 L415.60 922.74 L416.50 923.00 L417.50 923.13 L418.50 922.95 L419.50 922.54 L420.50 922.12 L421.50 921.85 L422.50 921.76 L423.50 921.77 L424.50 921.78 L425.50 921.70 L426.50 921.50 L427.50 921.25 L428.50 921.12 L429.50 921.17 L430.50 921.28 L431.50 921.41 L432.50 921.63 L433.50 922.01 L434.50 922.43 L435.50 922.63 L436.50 922.50 L437.50 922.24 L438.40 921.85 L438.50 921.36 L439.50 921.17 L440.50 921.43 L441.50 921.70 L442.50 921.69 L443.50 921.47 L444.50 921.33 L445.50 921.59 L446.50 922.08 L447.50 922.35 L448.50 922.34 L449.50 922.18 L450.50 921.90 L451.50 921.68 L452.50 921.57 L453.50 921.51 L454.50 921.55 L455.50 921.73 L456.50 921.99 L457.50 922.15 L458.50 922.02 L459.50 921.75 L460.50 921.66 L461.20 921.75 L461.50 921.82 L462.50 921.91 L463.50 922.06 L464.50 922.11 L465.50 921.94 L466.50 921.61 L467.50 921.25 L468.50 921.13 L469.50 921.22 L470.50 921.22 L471.50 921.16 L472.50 921.17 L473.50 921.20 L474.50 921.18 L475.50 921.28 L476.50 921.66 L477.50 921.92 L478.50 921.63 L479.50 921.25 L480.50 921.34 L481.50 921.65 L482.50 921.74 L483.50 921.59 L484.00 921.50 L484.50 921.51 L485.50 921.32 L486.50 921.09 L487.50 921.14 L488.50 921.34 L489.50 921.46 L490.50 921.48 L491.50 921.49 L492.50 921.48 L493.50 921.39 L494.50 921.23 L495.50 921.16 L496.50 921.29 L497.50 921.54 L498.50 921.79 L499.50 921.93 L500.50 921.97 L501.50 922.01 L502.50 921.98 L503.50 921.72 L504.50 921.39 L505.50 921.26 L506.50 921.44 L506.80 921.70 L507.50 921.71 L508.50 921.36 L509.50 920.85 L510.50 920.58 L511.50 920.74 L512.50 921.20 L513.50 921.59 L514.50 921.47 L515.50 920.98 L516.50 920.69 L517.50 920.73 L518.50 920.92 L519.50 921.16 L520.50 921.34 L521.50 921.25 L522.50 920.88 L523.50 920.63 L524.50 920.69 L525.50 920.89 L526.50 921.01 L527.50 921.02 L528.50 920.96 L529.50 920.82 L530.50 920.69 L531.50 920.83 L532.50 921.24 L533.50 921.52 L534.50 921.35 L535.50 920.99 L536.50 920.69 L537.50 920.44 L538.50 920.36 L539.50 920.54 L540.50 920.65 L541.50 920.48 L542.50 920.41 L543.50 920.76 L544.50 921.20 L545.50 921.45 L546.50 921.62 L547.50 921.71 L548.50 921.51 L549.50 921.04 L550.50 920.62 L551.50 920.44 L552.30 920.43 L552.50 920.48 L553.50 920.56 L554.50 920.65 L555.50 920.59 L556.50 920.38 L557.50 920.09 L558.50 919.81 L559.50 919.84 L560.50 920.17 L561.50 920.56 L562.50 920.82 L563.50 920.93 L564.50 920.89 L565.50 920.83 L566.50 920.87 L567.50 920.97 L568.50 920.95 L569.50 920.78 L570.00 920.54 L570.50 920.45 L571.50 920.58 L572.50 920.59 L573.50 920.34 L574.50 920.19 L575.50 920.33 L576.50 920.46 L577.50 920.40 L578.50 920.37 L579.50 920.47 L580.50 920.64 L581.50 920.82 L582.50 920.91 L583.50 920.82 L584.50 920.70 L585.50 920.55 L586.50 920.26 L587.50 919.92 L588.50 919.83 L589.50 920.15 L590.50 920.58 L591.50 920.75 L592.50 920.68 L592.80 920.50 L593.50 920.28 L594.50 920.03 L595.50 919.71 L596.50 919.46 L597.50 919.49 L598.50 919.73 L599.50 920.14 L600.50 920.62 L601.50 920.82 L602.50 920.62 L603.50 920.40 L604.50 920.33 L605.50 920.21 L606.50 919.95 L607.50 919.68 L608.50 919.57 L609.50 919.56 L610.50 919.53 L611.50 919.56 L612.50 919.76 L613.50 920.02 L614.50 920.22 L615.50 920.26 L615.60 920.02 L616.50 919.75 L617.50 919.84 L618.50 920.17 L619.50 920.28 L620.50 920.14 L621.50 920.00 L622.50 919.94 L623.50 919.91 L624.50 919.83 L625.50 919.49 L626.50 919.02 L627.50 918.88 L628.50 919.16 L629.50 919.41 L630.50 919.31 L631.50 919.10 L632.50 919.12 L633.50 919.27 L634.50 919.23 L635.50 919.07 L636.50 918.92 L637.50 918.82 L638.40 918.82 L638.50 918.77 L639.50 918.56 L640.50 918.53 L641.50 918.91 L642.50 919.40 L643.50 919.65 L644.50 919.63 L645.50 919.57 L646.50 919.63 L647.50 919.78 L648.50 919.77 L649.50 919.48 L650.50 919.26 L651.50 919.23 L652.50 919.13 L653.50 918.93 L654.50 918.94 L655.50 919.20 L656.50 919.33 L657.50 919.06 L658.50 918.75 L659.50 918.82 L660.50 919.11 L661.20 919.24 L661.50 918.99 L662.50 918.60 L663.50 918.39 L664.50 918.35 L665.50 918.32 L666.50 918.26 L667.50 918.27 L668.50 918.39 L669.50 918.56 L670.50 918.84 L671.50 919.26 L672.50 919.47 L673.50 919.33 L674.50 918.99 L675.50 918.65 L676.50 918.50 L677.50 918.43 L678.50 918.31 L679.50 918.17 L680.50 918.16 L681.50 918.29 L682.50 918.58 L683.50 918.93 L684.00 919.00 L684.50 918.59 L685.50 917.94 L686.50 917.49 L687.50 917.49 L688.50 917.75 L689.50 917.87 L690.50 917.97 L691.50 918.26 L692.50 918.59 L693.50 918.76 L694.50 918.61 L695.50 918.13 L696.50 917.74 L697.50 917.69 L698.50 917.73 L699.50 917.69 L700.50 917.74 L701.50 917.94 L702.50 918.01 L703.50 917.75 L704.50 917.44 L705.50 917.33 L706.50 917.42 L706.80 917.63 L707.50 917.71 L708.50 917.62 L709.50 917.64 L710.50 917.92 L711.50 918.16 L712.50 917.99 L713.50 917.59 L714.50 917.45 L715.50 917.60 L716.50 917.78 L717.50 917.90 L718.50 918.08 L719.50 918.33 L720.50 918.51 L721.50 918.49 L722.50 918.33 L723.50 918.21 L724.50 918.24 L725.50 918.39 L726.50 918.42 L727.50 918.34 L728.50 918.39 L729.50 918.65 L730.50 918.84 L731.50 918.74 L732.50 918.50 L733.50 918.26 L734.50 918.05 L735.50 917.96 L736.50 918.00 L737.50 918.10 L738.50 918.20 L739.50 918.21 L740.50 918.01 L741.50 917.65 L742.50 917.29 L743.50 917.01 L744.50 916.83 L745.50 916.86 L746.50 917.05 L747.50 917.06 L748.50 916.72 L749.50 916.24 L750.50 915.93 L751.50 916.08 L752.30 916.66 L752.50 917.21 L753.50 917.34 L754.50 917.13 L755.50 916.95 L756.50 917.05 L757.50 917.32 L758.50 917.52 L759.50 917.52 L760.00 917.41 L760.50 917.39 L761.50 917.41 L762.50 917.20 L763.50 916.77 L764.50 916.48 L765.50 916.65 L766.50 917.04 L767.50 917.25 L768.50 917.22 L769.50 917.10 L770.50 917.10 L771.40 917.21 L771.50 917.33 L772.50 917.41 L773.50 917.49 L774.50 917.41 L775.50 916.97 L776.50 916.40 L777.50 916.08 L778.50 916.00 L779.50 915.95 L780.50 915.98 L781.50 916.04 L782.50 915.90 L782.80 915.61 L783.50 915.40 L784.50 915.40 L785.50 915.53 L786.50 915.75 L787.50 916.09 L788.50 916.18 L789.50 916.01 L790.50 916.23 L791.50 916.68 L792.50 917.08 L793.50 917.21 L794.20 917.15 L794.50 917.37 L795.50 917.32 L796.50 916.94 L797.50 916.46 L798.50 916.02 L799.50 915.83 L799.90 916.03 L800.50 916.24 L801.50 916.23 L802.50 916.13 L803.50 916.20 L804.50 916.42 L805.50 916.61 L806.50 916.66 L807.50 916.69 L808.50 916.90 L809.50 917.33 L810.50 917.83 L811.30 918.13 L811.50 918.02 L812.50 917.51 L813.50 917.07 L814.50 916.73 L815.50 916.43 L816.50 916.26 L817.00 916.37 L817.50 916.50 L818.50 917.17 L819.30 917.16 L819.50 917.03 L820.50 917.07 L821.50 916.59 L822.50 915.92 L823.50 915.22 L824.40 914.65 L824.50 914.87 L825.50 915.31 L826.50 915.56 L827.50 915.64 L828.40 915.64 L828.50 915.78 L829.50 915.70 L830.50 915.23 L831.50 914.62 L832.50 913.99 L833.50 913.41 L834.50 912.89 L835.50 912.28 L836.50 911.50 L837.50 910.18 L838.50 908.39 L838.60 908.20 L839.50 906.19 L840.40 904.00 L840.50 903.77 L841.50 901.33 L841.80 900.90 L842.50 900.29 L843.50 899.42 L844.30 898.58 L844.50 898.77 L845.50 899.86 L846.50 900.60 L847.50 901.65 L848.30 902.80 L848.50 903.11 L849.50 904.99 L850.50 907.20 L851.20 908.80 L851.50 909.52 L852.50 912.12 L853.20 913.80 L853.50 914.46 L854.50 916.44 L854.80 916.80 L855.50 917.37 L856.50 917.96 L857.50 918.35 L858.50 918.51 L859.50 918.54 L860.00 918.52 L860.50 918.49 L861.50 918.32 L862.50 918.10 L863.50 918.02 L864.50 918.01 L865.50 918.03 L866.50 918.11 L866.70 918.16 L867.50 918.21 L868.50 918.47 L869.50 918.84 L870.50 919.14 L871.40 919.13 L871.50 919.01 L872.50 919.02 L873.50 919.11 L874.50 919.12 L875.50 918.96 L876.50 918.60 L877.50 918.21 L878.50 918.09 L879.50 918.37 L880.50 918.86 L881.50 919.13 L882.50 918.84 L882.80 918.21 L883.50 917.88 L884.50 917.98 L885.50 918.13 L886.50 918.22 L887.50 918.32 L888.50 918.23 L889.50 917.99 L890.50 917.96 L891.50 918.19 L892.50 918.29 L893.50 918.16 L894.50 918.12 L895.50 918.41 L896.50 918.88 L897.50 919.28 L898.50 919.45 L899.50 919.34 L900.50 919.08 L901.50 918.75 L902.50 918.32 L903.50 917.98 L904.50 917.91 L905.50 917.97 L905.60 917.92 L906.50 917.91 L907.50 918.06 L908.50 918.14 L909.50 917.95 L910.50 917.82 L911.50 918.07 L912.50 918.47 L913.50 918.61 L914.50 918.44 L915.50 918.25 L916.50 918.28 L917.50 918.62 L918.50 918.93 L919.50 918.73 L920.50 918.13 L921.50 917.58 L922.50 917.23 L923.50 917.05 L924.50 917.19 L925.50 917.64 L926.50 918.02 L927.50 918.09 L928.40 917.92 L928.50 917.77 L929.50 917.71 L930.50 917.73 L931.50 917.88 L932.50 918.16 L933.50 918.42 L934.50 918.37 L935.50 917.95 L936.50 917.41 L937.50 917.09 L938.50 916.94 L939.50 916.80 L940.50 916.78 L941.50 916.96 L942.50 917.09 L943.50 916.97 L944.50 916.75 L945.50 916.58 L946.50 916.51 L947.50 916.73 L948.50 917.22 L949.50 917.54 L950.50 917.49 L951.20 917.30 L951.50 917.35 L952.50 917.61 L953.50 917.70 L954.50 917.43 L955.50 917.13 L956.50 917.05 L957.50 917.07 L958.50 917.17 L959.50 917.38 L960.50 917.52 L961.50 917.43 L962.50 917.13 L963.50 916.81 L964.50 916.73 L965.50 916.86 L966.50 917.07 L967.50 917.22 L968.50 917.15 L969.50 917.08 L970.50 917.19 L971.50 917.37 L972.50 917.51 L973.50 917.53 L974.00 917.25 L974.50 916.58 L975.50 915.92 L976.50 915.75 L977.50 916.15 L978.50 916.77 L979.50 917.03 L980.50 916.80 L981.50 916.56 L982.50 916.57 L983.50 916.61 L984.50 916.52 L985.50 916.38 L986.50 916.20 L987.50 916.06 L988.50 915.98 L989.50 915.87 L990.50 915.87 L991.50 916.22 L992.50 916.72 L993.50 916.92 L994.50 916.58 L995.50 915.99 L996.50 915.64 L996.80 915.63 L997.50 915.63 L998.50 915.45 L999.50 915.19 L1000.50 915.12 L1001.50 915.37 L1002.50 915.76 L1003.50 915.94 L1004.50 915.90 L1005.50 915.84 L1006.50 915.76 L1007.50 915.64 L1008.50 915.63 L1009.50 915.67 L1010.50 915.70 L1011.50 915.73 L1012.50 915.65 L1013.50 915.44 L1014.50 915.20 L1015.50 915.13 L1016.50 915.25 L1017.50 915.35 L1018.50 915.37 L1019.50 915.42 L1020.50 915.46 L1021.50 915.42 L1022.50 915.41 L1023.50 915.53 L1024.50 915.61 L1025.50 915.54 L1026.50 915.48 L1027.50 915.53 L1028.50 915.58 L1029.50 915.48 L1030.50 915.20 L1031.50 914.84 L1032.50 914.63 L1033.50 914.60 L1034.50 914.63 L1035.50 914.81 L1036.50 915.21 L1037.50 915.44 L1038.50 915.20 L1039.50 914.83 L1040.50 914.79 L1041.50 915.12 L1042.30 915.46 L1042.50 915.57 L1043.50 915.47 L1044.50 915.30 L1045.50 915.23 L1046.50 915.28 L1047.50 915.35 L1048.50 915.37 L1049.50 915.23 L1050.50 914.95 L1051.50 914.73 L1052.50 914.74 L1053.50 914.79 L1054.50 914.72 L1055.50 914.72 L1056.50 914.94 L1057.50 915.16 L1058.50 915.14 L1059.50 915.08 L1060.00 915.21 L1060.50 915.28 L1061.50 915.01 L1062.50 914.67 L1063.50 914.54 L1064.50 914.48 L1065.50 914.32 L1066.50 914.16 L1067.50 914.19 L1068.50 914.50 L1069.50 914.86 L1070.50 914.92 L1071.50 914.76 L1072.50 914.75 L1073.50 914.82 L1074.50 914.84 L1075.50 914.93 L1076.50 915.03 L1077.50 915.02 L1078.50 914.89 L1079.50 914.80 L1080.50 914.82 L1081.50 914.84 L1082.50 914.79 L1082.80 914.84 L1083.50 915.03 L1084.50 915.16 L1085.50 915.03 L1086.50 914.76 L1087.50 914.71 L1088.50 915.04 L1089.50 915.42 L1090.50 915.50 L1091.50 915.31 L1092.50 914.97 L1093.50 914.56 L1094.50 914.29 L1095.50 914.30 L1096.50 914.51 L1097.50 914.66 L1098.50 914.56 L1099.50 914.27 L1100.50 914.09 L1101.50 914.15 L1102.50 914.32 L1103.50 914.42 L1104.50 914.31 L1105.50 914.06 L1105.60 913.86 L1106.50 913.98 L1107.50 914.28 L1108.50 914.37 L1109.50 914.25 L1110.50 914.11 L1111.50 914.00 L1112.50 913.96 L1113.50 913.99 L1114.50 913.98 L1115.50 913.89 L1116.50 913.78 L1117.50 913.72 L1118.50 913.74 L1119.50 913.81 L1120.50 913.86 L1121.50 913.82 L1122.50 913.68 L1123.50 913.50 L1124.50 913.48 L1125.50 913.68 L1126.50 913.92 L1127.50 913.96 L1128.40 913.78 L1128.50 913.63 L1129.50 913.69 L1130.50 913.93 L1131.50 914.23 L1132.50 914.37 L1133.50 914.08 L1134.50 913.56 L1135.50 913.36 L1136.50 913.56 L1137.50 913.84 L1138.50 913.93 L1139.50 913.84 L1140.50 913.65 L1141.50 913.44 L1142.50 913.32 L1143.50 913.32 L1144.50 913.39 L1145.50 913.38 L1146.50 913.16 L1147.50 912.90 L1148.50 912.74 L1149.50 912.69 L1150.50 912.93 L1151.20 913.51 L1151.50 914.13 L1152.50 914.24 L1153.50 913.75 L1154.50 913.24 L1155.50 913.10 L1156.50 913.12 L1157.50 913.15 L1158.50 913.32 L1159.50 913.42 L1160.50 913.15 L1161.50 912.65 L1162.50 912.24 L1163.50 912.09 L1164.50 912.21 L1165.50 912.42 L1166.50 912.39 L1167.50 912.11 L1168.50 911.99 L1169.50 912.20 L1170.50 912.40 L1171.50 912.45 L1172.50 912.54 L1173.50 912.67 L1174.00 912.71 L1174.50 912.56 L1175.50 912.28 L1176.50 912.08 L1177.50 912.06 L1178.50 911.99 L1179.50 911.80 L1180.50 911.68 L1181.50 911.64 L1182.50 911.61 L1183.50 911.57 L1184.50 911.59 L1185.50 911.85 L1186.50 912.31 L1187.50 912.62 L1188.50 912.63 L1189.50 912.48 L1190.50 912.36 L1191.50 912.35 L1192.50 912.38 L1193.50 912.30 L1194.50 912.07 L1195.50 911.85 L1196.50 911.69 L1196.80 911.41 L1197.50 910.95 L1198.50 910.65 L1199.50 910.68 L1200.50 911.00 L1201.50 911.42 L1202.50 911.67 L1203.50 911.66 L1204.50 911.49 L1205.50 911.25 L1206.50 911.14 L1207.50 911.22 L1208.50 911.25 L1209.50 911.17 L1210.50 911.22 L1211.50 911.49 L1212.50 911.62 L1213.50 911.39 L1214.50 911.02 L1215.50 910.80 L1216.50 910.78 L1217.50 910.96 L1218.50 911.31 L1219.50 911.54 L1220.50 911.42 L1221.50 911.14 L1222.50 910.93 L1223.50 910.90 L1224.50 910.98 L1225.50 910.90 L1226.50 910.67 L1227.50 910.63 L1228.50 910.92 L1229.50 911.18 L1230.50 911.04 L1231.50 910.65 L1232.50 910.45 L1233.50 910.48 L1234.50 910.57 L1235.50 910.60 L1236.50 910.55 L1237.50 910.59 L1238.50 910.88 L1239.50 911.14 L1240.50 911.06 L1241.50 910.75 L1242.30 910.44 L1242.50 910.26 L1243.50 910.11 L1244.50 909.93 L1245.50 909.92 L1246.50 910.09 L1247.50 910.25 L1248.50 910.35 L1249.50 910.46 L1250.50 910.56 L1251.50 910.58 L1252.50 910.50 L1253.50 910.40 L1254.50 910.31 L1255.50 910.19 L1256.50 910.04 L1257.50 909.92 L1258.50 909.90 L1259.50 910.03 L1260.00 910.16 L1260.50 909.97 L1261.50 909.51 L1262.50 909.29 L1263.50 909.50 L1264.50 909.84 L1265.50 909.98 L1266.50 909.91 L1267.50 909.70 L1268.50 909.48 L1269.50 909.48 L1270.50 909.75 L1271.50 910.02 L1272.50 910.01 L1273.50 909.70 L1274.50 909.32 L1275.50 909.06 L1276.50 908.92 L1277.50 908.94 L1278.50 909.06 L1279.50 909.18 L1280.50 909.36 L1281.50 909.59 L1282.50 909.75 L1282.80 909.77 L1283.50 909.78 L1284.50 910.06 L1285.50 910.43 L1286.20 910.32 L1286.50 909.99 L1287.50 909.77 L1288.50 909.48 L1289.50 909.14 L1290.50 908.86 L1291.50 908.66 L1292.50 908.48 L1293.50 908.27 L1294.20 908.13 L1294.50 908.13 L1295.50 908.10 L1296.50 908.07 L1297.50 907.89 L1298.50 907.63 L1299.50 907.49 L1300.50 907.41 L1301.50 907.39 L1302.50 907.59 L1303.50 907.83 L1304.50 907.81 L1305.50 907.66 L1306.50 907.53 L1307.50 907.30 L1308.50 907.04 L1309.50 906.98 L1310.50 907.11 L1311.50 907.25 L1312.50 907.30 L1313.50 907.25 L1313.60 907.11 L1314.50 906.97 L1315.50 906.95 L1316.50 907.05 L1317.50 907.19 L1318.50 907.27 L1319.50 907.49 L1320.50 907.90 L1321.50 908.17 L1322.50 908.08 L1323.50 907.85 L1324.50 907.71 L1325.50 907.83 L1326.50 908.15 L1327.50 908.42 L1328.40 908.38 L1328.50 908.13 L1329.50 908.09 L1330.50 908.24 L1331.50 908.23 L1332.50 908.13 L1333.50 908.24 L1334.50 908.48 L1335.50 908.53 L1336.50 908.32 L1337.50 908.13 L1338.50 908.22 L1339.50 908.60 L1339.80 908.75 L1340.50 908.46 L1341.50 908.24 L1342.50 908.14 L1343.50 908.15 L1344.50 908.19 L1345.50 908.12 L1346.50 907.91 L1347.50 907.71 L1348.50 907.69 L1349.50 907.77 L1350.50 907.75 L1351.20 907.64 L1351.50 907.56 L1352.50 907.53 L1353.50 907.52 L1354.50 907.51 L1355.50 907.57 L1356.50 907.78 L1357.50 908.09 L1358.50 908.30 L1359.50 908.36 L1360.50 908.32 L1361.50 908.21 L1362.50 908.17 L1362.60 908.25 L1363.50 908.32 L1364.50 908.23 L1365.50 908.05 L1366.50 907.97 L1367.50 907.99 L1368.50 907.96 L1369.50 907.82 L1370.50 907.63 L1371.50 907.41 L1371.70 907.33 L1372.50 907.11 L1373.50 906.24 L1374.50 905.50 L1374.60 905.48 L1375.50 905.21 L1376.50 904.94 L1377.50 904.77 L1378.50 904.73 L1379.50 904.69 L1380.50 904.55 L1381.50 904.37 L1382.50 904.18 L1383.10 903.99 L1383.50 903.78 L1384.50 903.50 L1385.50 903.34 L1386.50 903.24 L1387.50 903.08 L1388.50 902.87 L1389.50 902.62 L1390.50 902.37 L1391.50 902.16 L1392.50 901.94 L1393.50 901.72 L1394.50 901.65 L1395.50 901.72 L1396.50 901.74 L1397.50 901.79 L1398.50 901.87 L1399.50 901.91 L1400.00 901.92 L1400.50 901.96 L1401.50 902.14 L1402.30 902.34 L1402.50 902.38 L1403.50 903.09 L1404.50 903.97 L1404.60 904.04 L1405.50 904.49 L1406.50 904.77 L1407.50 904.86 L1408.50 905.07 L1408.70 905.13 L1409.50 905.77 L1410.50 907.10 L1411.50 908.31 L1411.60 908.40 L1412.50 909.05 L1413.50 909.65 L1414.50 910.30 L1415.50 911.07 L1416.50 911.90 L1417.50 912.80 L1418.50 913.77 L1419.10 914.40 L1419.50 914.88 L1420.50 916.32 L1421.50 917.70 L1422.00 918.20 L1422.50 918.56 L1423.50 919.10 L1424.30 919.60 L1424.50 919.76 L1425.50 920.76 L1426.50 921.98 L1427.50 923.23 L1428.50 924.30 L1429.50 925.01 L1430.50 925.51 L1431.50 925.89 L1432.50 926.19 L1433.50 926.45 L1434.50 926.63 L1434.70 926.61 L1435.50 926.52 L1436.50 926.43 L1437.50 926.37 L1438.50 926.41 L1439.30 926.62 L1439.50 926.79 L1440.50 926.00 L1441.50 925.06 L1442.50 923.94 L1443.40 923.00 L1443.50 922.91 L1444.50 922.02 L1445.50 921.11 L1446.50 920.09 L1447.40 919.00 L1447.50 918.86 L1448.50 917.14 L1449.50 915.04 L1450.50 912.89 L1450.90 912.10 L1451.50 910.92 L1452.50 908.90 L1453.50 907.03 L1454.40 905.70 L1454.50 905.58 L1455.50 904.67 L1456.50 903.96 L1457.50 903.00 L1457.80 902.60 L1458.50 901.07 L1459.50 897.92 L1459.60 897.60 L1460.50 894.48 L1461.30 891.20 L1461.50 890.33 L1462.50 885.31 L1462.80 883.10 L1463.50 872.98 L1463.60 871.60 L1464.50 862.10 L1464.80 858.00 L1465.50 839.02 L1466.50 803.53 L1466.80 796.00 L1467.50 784.81 L1468.50 772.43 L1469.10 762.00 L1469.50 747.49 L1470.20 725.30 L1470.50 727.56 L1471.50 755.56 L1471.90 768.70 L1472.50 787.12 L1473.40 823.60 L1473.50 829.83 L1473.90 860.00 L1474.50 885.46 L1474.60 888.90 L1475.20 906.30 L1475.50 912.02 L1476.30 923.60 L1476.50 926.24 L1477.50 938.02 L1477.80 940.00 L1478.50 942.62 L1479.50 945.00 L1480.50 947.03 L1481.50 948.64 L1482.20 949.30 L1482.50 949.46 L1483.50 949.95 L1484.50 950.36 L1485.50 950.66 L1486.50 950.87 L1487.50 951.03 L1488.50 951.26 L1489.50 951.56 L1490.50 951.87 L1491.50 952.12 L1492.50 952.31 L1493.50 952.50 L1494.50 952.69 L1495.50 952.83 L1496.50 952.90 L1497.50 952.98 L1498.50 953.14 L1499.50 953.29 L1500.00 953.29 L1500.50 953.21 L1501.50 953.22 L1502.50 953.30 L1503.50 953.35 L1504.00 953.28 L1504.50 953.20 L1505.50 953.20 L1506.50 953.25 L1507.50 953.37 L1508.50 953.46 L1509.50 953.42 L1510.50 953.33 L1511.50 953.33 L1512.50 953.38 L1513.50 953.39 L1514.50 953.36 L1515.50 953.34 L1516.50 953.36 L1517.50 953.40 L1518.50 953.40 L1519.50 953.38 L1520.50 953.37 L1521.50 953.42 L1522.50 953.44 L1523.50 953.38 L1524.50 953.30 L1525.50 953.27 L1526.50 953.30 L1527.50 953.34 L1528.50 953.41 L1529.50 953.53 L1530.50 953.67 L1531.50 953.73 L1532.50 953.62 L1533.50 953.38 L1534.50 953.20 L1535.50 953.21 L1536.50 953.33 L1537.50 953.42 L1538.50 953.45 L1539.50 953.44 L1540.50 953.42 L1541.50 953.39 L1542.50 953.35 L1543.50 953.29 L1544.50 953.26 L1545.50 953.23 L1546.50 953.22 L1547.50 953.27 L1548.50 953.36 L1549.50 953.43 L1550.50 953.48 L1551.50 953.51 L1552.50 953.51 L1553.50 953.48 L1554.50 953.48 L1555.50 953.57 L1556.50 953.70 L1557.50 953.71 L1558.50 953.53 L1559.50 953.34 L1560.50 953.27 L1561.50 953.33 L1562.50 953.40 L1563.50 953.46 L1564.50 953.53 L1565.50 953.60 L1566.50 953.62 L1567.50 953.57 L1568.50 953.46 L1569.50 953.39 L1570.50 953.41 L1571.50 953.47 L1572.50 953.46 L1573.50 953.40 L1574.50 953.39 L1575.50 953.44 L1576.50 953.48 L1577.50 953.47 L1578.50 953.43 L1579.50 953.45 L1580.50 953.53 L1581.50 953.56 L1582.50 953.55 L1583.50 953.54 L1584.50 953.53 L1585.50 953.46 L1586.50 953.39 L1587.50 953.36 L1588.50 953.40 L1589.50 953.45 L1590.50 953.44 L1591.50 953.42 L1592.50 953.43 L1593.50 953.47 L1594.50 953.48 L1595.50 953.46 L1596.50 953.41 L1597.50 953.38 L1598.50 953.44 L1599.50 953.53 L1600.00 953.55 L1600.50 953.51 L1601.50 953.54 L1602.50 953.60 L1603.50 953.62 L1604.50 953.60 L1605.50 953.60 L1606.50 953.57 L1607.50 953.52 L1608.50 953.54 L1609.50 953.62 L1610.50 953.67 L1611.50 953.67 L1612.50 953.60 L1613.50 953.55 L1614.50 953.57 L1615.50 953.61 L1616.50 953.63 L1617.50 953.61 L1618.50 953.56 L1619.50 953.52 L1620.50 953.48 L1621.50 953.40 L1622.50 953.30 L1623.50 953.28 L1624.50 953.35 L1625.50 953.46 L1626.50 953.54 L1627.50 953.58 L1628.50 953.61 L1629.50 953.64 L1630.50 953.68 L1631.50 953.66 L1632.50 953.60 L1633.50 953.59 L1634.50 953.65 L1635.50 953.71 L1636.50 953.72 L1637.50 953.73 L1638.50 953.80 L1639.50 953.88 L1640.50 953.93 L1641.50 953.94 L1642.50 953.92 L1643.50 953.88 L1644.50 953.79 L1645.50 953.71 L1646.50 953.63 L1647.50 953.55 L1648.50 953.57 L1649.50 953.68 L1650.50 953.76 L1651.50 953.78 L1652.50 953.78 L1653.50 953.80 L1654.50 953.84 L1655.50 953.84 L1656.50 953.78 L1657.50 953.73 L1658.50 953.72 L1659.50 953.74 L1660.50 953.82 L1661.50 953.90 L1662.50 953.90 L1663.50 953.81 L1664.50 953.76 L1665.50 953.80 L1666.50 953.87 L1667.50 953.86 L1668.50 953.83 L1669.50 953.83 L1670.50 953.82 L1671.50 953.72 L1672.50 953.62 L1673.50 953.62 L1674.50 953.67 L1675.50 953.73 L1676.50 953.86 L1677.50 954.04 L1678.50 954.17 L1679.50 954.13 L1680.50 953.96 L1681.50 953.82 L1682.00 953.79" fill="none" stroke="#FF0000" stroke-width="3.00" stroke-linejoin="round" stroke-linecap="round"/>
<path d="M169.50 677.32 L170.50 677.03 L171.50 676.58 L172.50 676.28 L173.50 676.32 L174.50 676.50 L175.50 676.61 L176.50 676.64 L177.50 676.62 L178.50 676.61 L179.50 676.80 L180.50 677.26 L181.40 677.66 L181.50 677.67 L182.50 677.26 L183.50 676.78 L184.50 676.46 L185.50 676.35 L186.50 676.30 L187.50 676.16 L188.50 676.10 L189.50 676.30 L190.50 676.46 L191.50 676.29 L192.50 675.99 L192.80 675.94 L193.50 676.05 L194.50 676.05 L195.50 676.04 L196.50 676.28 L197.50 676.59 L198.50 676.55 L199.50 676.09 L200.50 675.58 L201.50 675.22 L202.50 675.07 L203.50 675.28 L204.50 675.74 L205.50 676.08 L206.50 676.06 L207.50 675.93 L208.50 675.89 L209.50 675.75 L210.50 675.56 L211.50 675.54 L212.50 675.63 L213.50 675.65 L214.50 675.59 L215.50 675.64 L215.60 676.05 L216.50 676.63 L217.50 677.03 L218.50 677.19 L219.50 677.14 L220.50 676.84 L221.50 676.39 L222.50 675.95 L223.50 675.59 L224.50 675.47 L225.50 675.77 L226.50 676.32 L227.50 676.71 L228.50 676.78 L229.50 676.64 L230.50 676.39 L231.50 676.17 L232.50 676.06 L233.50 676.12 L234.50 676.38 L235.50 676.53 L236.50 676.45 L237.50 676.44 L238.40 676.62 L238.50 676.79 L239.50 676.79 L240.50 676.66 L241.50 676.44 L242.50 676.16 L243.50 675.99 L244.50 675.96 L245.50 675.95 L246.50 676.01 L247.50 676.06 L248.50 676.08 L249.50 676.20 L250.50 676.22 L251.50 675.84 L252.50 675.20 L253.50 674.81 L254.50 674.91 L255.50 675.23 L256.50 675.45 L257.50 675.61 L258.50 675.76 L259.50 675.86 L260.50 675.94 L261.20 675.96 L261.50 676.01 L262.50 676.15 L263.50 676.20 L264.50 675.92 L265.50 675.53 L266.50 675.45 L266.90 675.71 L267.50 675.81 L268.50 675.59 L269.50 675.33 L270.50 675.31 L271.50 675.46 L272.50 675.49 L273.50 675.40 L274.50 675.37 L275.50 675.47 L276.50 675.58 L277.50 675.70 L278.50 675.87 L279.50 675.99 L280.50 675.93 L281.50 675.86 L282.50 675.83 L283.50 675.72 L284.00 675.48 L284.50 675.20 L285.50 675.15 L286.50 675.39 L287.50 675.63 L288.50 675.67 L289.50 675.53 L290.50 675.38 L291.50 675.43 L292.50 675.77 L293.50 676.09 L294.50 676.03 L295.50 675.74 L296.50 675.50 L297.50 675.37 L298.50 675.34 L299.50 675.25 L300.50 674.95 L301.50 674.68 L302.50 674.77 L303.50 675.13 L304.50 675.46 L305.50 675.58 L306.50 675.56 L306.80 675.56 L307.50 675.58 L308.50 675.60 L309.50 675.60 L310.50 675.50 L311.50 675.35 L312.50 675.23 L313.50 675.14 L314.50 675.16 L315.50 675.25 L316.50 675.25 L317.50 675.18 L318.50 675.22 L319.50 675.34 L320.50 675.37 L321.50 675.24 L322.50 675.12 L323.50 675.15 L324.50 675.40 L325.50 675.64 L326.50 675.51 L327.50 675.28 L328.50 675.25 L329.50 675.31 L330.50 675.38 L331.50 675.35 L332.50 675.14 L333.50 674.92 L334.50 674.76 L335.50 674.56 L336.50 674.39 L337.50 674.49 L338.50 674.90 L339.50 675.35 L340.50 675.62 L341.50 675.59 L342.50 675.25 L343.50 674.71 L344.50 674.19 L345.50 673.83 L346.50 673.80 L347.50 674.06 L348.50 674.38 L349.50 674.46 L350.50 674.24 L351.50 673.96 L352.30 673.91 L352.50 674.16 L353.50 674.47 L354.50 674.67 L355.50 674.91 L356.50 675.18 L357.50 675.15 L358.50 674.80 L359.50 674.49 L360.50 674.45 L361.50 674.59 L362.50 674.80 L363.50 675.07 L364.50 675.34 L365.50 675.47 L366.50 675.35 L367.50 675.07 L368.50 674.81 L369.50 674.73 L370.00 674.89 L370.50 675.15 L371.50 675.29 L372.50 675.25 L373.50 675.10 L374.50 675.02 L375.50 674.98 L376.50 674.86 L377.50 674.65 L378.50 674.42 L379.50 674.26 L380.50 674.27 L381.50 674.45 L382.50 674.66 L383.50 674.62 L384.50 674.26 L385.50 673.89 L386.50 673.88 L387.50 674.13 L388.50 674.34 L389.50 674.45 L390.50 674.45 L391.50 674.49 L392.50 674.75 L392.80 674.93 L393.50 674.70 L394.50 674.27 L395.50 673.92 L396.50 673.73 L397.50 673.80 L398.50 674.27 L399.50 674.80 L400.50 674.99 L401.50 674.97 L402.50 675.02 L403.50 675.11 L404.50 675.15 L405.50 675.10 L406.50 674.90 L407.50 674.55 L408.50 674.05 L409.50 673.56 L410.50 673.40 L411.50 673.50 L412.50 673.54 L413.50 673.55 L414.50 673.73 L415.50 674.17 L415.60 674.61 L416.50 674.65 L417.50 674.47 L418.50 674.35 L419.50 674.29 L420.50 674.30 L421.50 674.29 L422.50 674.12 L423.50 673.87 L424.50 673.72 L425.50 673.62 L426.50 673.57 L427.50 673.66 L428.50 673.85 L429.50 674.04 L430.50 674.09 L431.50 673.96 L432.50 673.74 L433.50 673.40 L434.50 673.10 L435.50 673.03 L436.50 673.17 L437.50 673.35 L438.40 673.49 L438.50 673.60 L439.50 673.87 L440.50 674.26 L441.50 674.34 L442.50 674.02 L443.50 673.79 L444.50 673.91 L445.50 674.09 L446.50 673.89 L447.50 673.33 L448.50 672.81 L449.50 672.54 L450.50 672.46 L451.50 672.61 L452.50 672.94 L453.50 673.35 L454.50 673.66 L455.50 673.56 L456.50 673.16 L457.50 672.97 L458.50 673.14 L459.50 673.25 L460.50 673.07 L461.20 672.92 L461.50 673.08 L462.50 673.36 L463.50 673.63 L464.50 673.82 L465.50 673.79 L466.50 673.54 L467.50 673.27 L468.50 673.07 L469.50 672.85 L470.50 672.68 L471.50 672.66 L472.50 672.75 L473.50 672.96 L474.50 673.38 L475.50 673.87 L476.50 674.10 L477.50 673.99 L478.30 673.52 L478.50 672.95 L479.50 672.81 L480.50 672.88 L481.50 672.88 L482.50 672.82 L483.50 672.75 L484.00 672.59 L484.50 672.46 L485.50 672.59 L486.50 672.61 L487.50 672.21 L488.50 671.82 L489.50 671.85 L490.50 672.08 L491.50 672.18 L492.50 672.09 L493.50 671.98 L494.50 672.14 L495.50 672.66 L496.50 673.06 L497.50 672.88 L498.50 672.33 L499.50 671.86 L500.50 671.72 L501.50 671.93 L502.50 672.18 L503.50 672.35 L504.50 672.58 L505.50 672.82 L506.50 672.90 L506.80 672.71 L507.50 672.27 L508.50 671.87 L509.50 671.85 L510.50 672.18 L511.50 672.59 L512.50 672.86 L513.50 672.87 L514.50 672.69 L515.50 672.58 L516.50 672.62 L517.50 672.70 L518.50 672.77 L519.50 672.89 L520.50 673.03 L521.50 673.10 L522.50 673.14 L523.50 673.11 L524.50 672.94 L525.50 672.71 L526.50 672.63 L527.50 672.72 L528.50 672.82 L529.50 672.68 L530.50 672.28 L531.50 671.97 L532.50 671.96 L533.50 672.01 L534.50 671.99 L535.50 671.95 L536.50 671.92 L537.50 672.00 L538.50 672.22 L539.50 672.38 L540.50 672.36 L541.50 672.29 L542.50 672.16 L543.50 671.87 L544.50 671.71 L545.50 672.02 L546.50 672.65 L547.50 673.21 L548.50 673.38 L549.50 673.09 L550.50 672.62 L551.50 672.38 L552.30 672.50 L552.50 672.73 L553.50 672.65 L554.50 672.43 L555.50 672.38 L556.50 672.46 L557.50 672.37 L558.50 671.99 L559.50 671.51 L560.50 671.20 L561.50 671.18 L562.50 671.49 L563.50 671.91 L564.50 672.25 L565.50 672.40 L566.50 672.41 L567.50 672.34 L568.50 672.30 L569.50 672.36 L570.00 672.47 L570.50 672.45 L571.50 672.11 L572.50 671.72 L573.50 671.55 L574.50 671.49 L575.50 671.55 L576.50 671.91 L577.50 672.39 L578.50 672.62 L579.50 672.56 L580.50 672.44 L581.50 672.21 L582.50 671.89 L583.50 671.71 L584.50 671.62 L585.50 671.47 L586.50 671.38 L587.50 671.65 L588.50 672.15 L589.50 672.51 L590.50 672.55 L591.50 672.43 L592.50 672.27 L592.80 671.96 L593.50 671.66 L594.50 671.60 L595.50 671.69 L596.50 671.81 L597.50 671.94 L598.50 672.02 L599.50 671.97 L600.50 671.92 L601.50 671.93 L602.50 671.91 L603.50 671.88 L604.50 671.81 L605.50 671.57 L606.50 671.26 L607.50 671.06 L608.50 671.12 L609.50 671.47 L610.50 671.74 L611.50 671.65 L612.50 671.40 L613.50 671.36 L614.50 671.67 L615.50 672.03 L615.60 672.05 L616.50 671.74 L617.50 671.41 L618.50 671.16 L619.50 671.00 L620.50 670.99 L621.50 671.18 L622.50 671.46 L623.50 671.62 L624.50 671.48 L625.50 671.14 L626.50 670.86 L627.50 670.82 L628.50 671.00 L629.50 671.24 L630.50 671.32 L631.50 671.11 L632.50 670.75 L633.50 670.63 L634.50 670.81 L635.50 670.86 L636.50 670.73 L637.50 670.75 L638.40 670.88 L638.50 670.95 L639.50 670.92 L640.50 670.78 L641.50 670.74 L642.50 670.85 L643.50 670.85 L644.50 670.69 L645.50 670.55 L646.50 670.56 L647.50 670.67 L648.50 670.69 L649.50 670.65 L650.50 670.71 L651.50 670.82 L652.50 670.84 L653.50 670.75 L654.50 670.64 L655.50 670.48 L656.50 670.28 L657.50 670.15 L658.50 670.14 L659.50 670.36 L660.50 670.68 L661.20 670.91 L661.50 670.91 L662.50 670.56 L663.50 670.04 L664.50 669.77 L665.50 669.94 L666.50 670.23 L667.50 670.35 L668.50 670.31 L669.50 670.13 L670.50 669.91 L671.50 670.01 L672.50 670.51 L673.50 670.86 L674.50 670.74 L675.50 670.50 L676.50 670.53 L677.50 670.63 L678.50 670.51 L679.50 670.21 L680.50 670.07 L681.50 670.27 L682.50 670.68 L683.50 670.97 L684.00 670.83 L684.50 670.34 L685.50 669.96 L686.50 669.90 L687.50 670.03 L688.50 670.20 L689.50 670.33 L690.50 670.37 L691.50 670.22 L692.50 669.78 L693.50 669.24 L694.50 668.89 L695.50 668.78 L696.50 668.82 L697.50 669.06 L698.50 669.41 L699.50 669.53 L700.50 669.30 L701.50 669.00 L702.50 668.94 L703.50 669.18 L704.50 669.37 L705.50 669.36 L706.50 669.48 L706.80 669.69 L707.50 669.74 L708.50 669.67 L709.50 669.60 L710.50 669.62 L711.50 669.75 L712.50 669.72 L713.50 669.46 L714.50 669.39 L715.50 669.70 L716.50 670.10 L717.50 670.19 L718.50 669.88 L719.50 669.43 L720.50 669.25 L721.50 669.33 L722.50 669.38 L723.50 669.37 L724.50 669.50 L725.50 669.69 L726.50 669.68 L727.50 669.49 L728.50 669.28 L729.50 669.17 L730.50 669.33 L731.50 669.81 L732.50 670.33 L733.50 670.45 L734.50 670.09 L735.50 669.60 L736.50 669.18 L737.50 668.85 L738.50 668.70 L739.50 668.78 L740.50 668.97 L741.50 668.99 L742.50 668.75 L743.50 668.55 L744.50 668.52 L745.50 668.43 L746.50 668.21 L747.50 667.94 L747.80 667.84 L748.50 668.06 L749.50 668.31 L750.50 668.30 L751.50 668.14 L752.50 668.10 L753.50 668.21 L754.50 668.31 L755.50 668.35 L756.50 668.50 L757.50 668.80 L758.50 669.06 L759.50 669.20 L760.00 669.33 L760.50 669.43 L761.50 669.33 L762.50 669.01 L763.50 668.70 L764.50 668.62 L765.50 668.78 L766.50 668.99 L767.50 669.01 L768.50 668.86 L769.50 668.73 L770.50 668.77 L771.40 668.88 L771.50 668.87 L772.50 668.54 L773.50 668.06 L774.50 667.54 L775.50 667.30 L776.00 667.53 L776.50 667.44 L777.50 667.44 L778.50 667.76 L779.50 668.22 L780.50 668.70 L781.50 668.91 L781.70 668.57 L782.50 668.28 L783.50 668.20 L784.50 668.11 L785.50 668.10 L786.50 668.19 L787.50 668.21 L788.50 668.15 L789.50 668.25 L790.50 668.44 L791.50 668.52 L792.50 668.57 L793.50 668.61 L794.20 668.42 L794.50 668.10 L795.50 667.95 L796.50 667.93 L797.50 667.98 L798.50 668.10 L799.50 668.31 L800.50 668.60 L801.50 668.89 L802.50 669.08 L803.50 669.11 L804.50 669.03 L805.50 668.84 L805.60 668.68 L806.50 668.76 L807.50 668.86 L808.50 668.90 L809.50 668.90 L810.50 668.77 L811.50 668.44 L812.50 668.07 L813.50 667.85 L814.10 667.62 L814.50 667.49 L815.50 667.95 L816.50 668.24 L817.00 667.81 L817.50 667.86 L818.50 668.14 L819.50 668.17 L820.50 668.05 L821.50 667.86 L822.50 667.59 L822.70 667.28 L823.50 667.17 L824.50 667.39 L825.50 667.48 L826.50 667.17 L827.50 666.88 L828.40 667.04 L828.50 667.34 L829.50 667.19 L830.50 666.74 L831.50 666.15 L832.50 665.51 L832.90 665.26 L833.50 664.90 L834.50 664.41 L835.50 663.93 L836.50 663.29 L836.90 663.00 L837.50 662.48 L838.50 661.41 L839.50 660.18 L839.80 659.80 L840.50 658.72 L841.50 657.05 L842.10 656.40 L842.50 656.13 L843.50 655.58 L844.30 655.49 L844.50 655.55 L845.50 655.73 L846.50 656.20 L847.50 657.16 L848.50 658.50 L849.50 660.00 L850.50 661.70 L851.50 663.40 L852.30 664.60 L852.50 664.87 L853.50 666.16 L854.50 667.30 L854.80 667.60 L855.50 668.34 L856.50 669.10 L856.90 668.89 L857.50 668.65 L858.50 668.70 L859.50 668.92 L860.00 669.23 L860.50 669.35 L861.50 669.33 L862.50 669.35 L863.50 669.50 L864.50 669.79 L865.50 669.98 L866.50 669.74 L866.70 669.34 L867.50 669.36 L868.50 669.53 L869.50 669.49 L870.50 669.42 L871.50 669.45 L872.50 669.59 L873.50 669.79 L874.50 669.81 L875.50 669.57 L876.50 669.24 L877.50 668.92 L878.50 668.77 L879.50 668.83 L880.50 668.89 L881.50 668.83 L882.50 668.64 L882.80 668.36 L883.50 668.27 L884.50 668.54 L885.50 668.99 L886.50 669.20 L887.50 669.04 L888.50 668.79 L889.50 668.68 L890.50 668.57 L891.50 668.43 L892.50 668.57 L893.50 668.96 L894.50 669.24 L895.50 669.30 L896.50 669.25 L897.50 669.15 L898.50 668.96 L899.50 668.73 L900.50 668.61 L901.50 668.76 L902.50 669.16 L903.50 669.48 L904.50 669.39 L905.50 669.08 L905.60 668.86 L906.50 668.82 L907.50 668.90 L908.50 669.01 L909.50 669.05 L910.50 669.00 L911.50 668.92 L912.50 668.90 L913.50 668.81 L914.50 668.66 L915.50 668.60 L916.50 668.55 L917.50 668.36 L918.50 668.13 L919.50 668.09 L920.50 668.15 L921.50 668.10 L922.50 668.02 L923.50 668.05 L924.50 668.20 L925.50 668.47 L926.50 668.66 L927.50 668.54 L928.40 668.14 L928.50 667.81 L929.50 667.92 L930.50 668.29 L931.50 668.55 L932.50 668.73 L933.50 668.87 L934.50 668.86 L935.50 668.81 L936.50 668.81 L937.50 668.80 L938.50 668.85 L939.50 669.08 L939.80 669.22 L940.50 668.84 L941.50 668.32 L942.50 668.21 L943.50 668.36 L944.50 668.41 L945.50 668.27 L946.50 668.03 L947.50 667.82 L948.50 667.75 L949.50 667.75 L950.50 667.76 L951.20 667.76 L951.50 667.66 L952.50 667.50 L953.50 667.44 L954.50 667.48 L955.50 667.48 L956.50 667.61 L957.50 667.98 L958.50 668.30 L959.50 668.28 L960.50 668.00 L961.50 667.67 L962.50 667.41 L963.50 667.34 L964.50 667.46 L965.50 667.63 L966.50 667.76 L967.50 667.69 L968.50 667.42 L969.50 667.31 L970.50 667.55 L971.50 667.81 L972.50 667.75 L973.50 667.48 L974.00 667.23 L974.50 667.20 L975.50 667.47 L976.50 667.92 L977.50 668.22 L978.50 668.27 L979.50 668.22 L980.50 667.99 L981.50 667.47 L982.50 667.09 L983.50 667.19 L984.50 667.49 L985.50 667.62 L986.50 667.67 L987.50 667.79 L988.50 667.72 L989.50 667.31 L990.50 666.90 L991.50 666.88 L992.50 667.25 L993.50 667.67 L994.50 667.92 L995.50 667.99 L996.50 667.91 L996.80 667.70 L997.50 667.34 L998.50 666.97 L999.50 666.79 L1000.50 666.84 L1001.50 667.02 L1002.50 667.28 L1003.50 667.38 L1004.50 667.14 L1005.50 666.83 L1006.50 666.76 L1007.50 666.81 L1008.50 666.74 L1009.50 666.65 L1010.50 666.67 L1011.50 666.75 L1012.50 666.69 L1013.50 666.48 L1014.50 666.46 L1015.50 666.69 L1016.50 666.86 L1017.50 666.86 L1018.50 666.89 L1019.50 667.04 L1020.50 667.15 L1021.50 666.98 L1022.50 666.64 L1023.50 666.43 L1024.50 666.43 L1025.50 666.42 L1026.50 666.18 L1027.50 665.80 L1028.50 665.70 L1029.50 666.09 L1030.50 666.62 L1031.50 666.96 L1032.50 667.03 L1033.50 666.85 L1034.50 666.63 L1035.50 666.57 L1036.50 666.62 L1037.50 666.65 L1038.50 666.59 L1039.50 666.44 L1040.50 666.20 L1041.50 665.87 L1042.30 665.56 L1042.50 665.42 L1043.50 665.57 L1044.50 666.10 L1045.50 666.68 L1046.50 666.81 L1047.50 666.41 L1048.50 665.92 L1049.50 665.80 L1050.50 665.92 L1051.50 665.85 L1052.50 665.62 L1053.50 665.50 L1054.50 665.70 L1055.50 666.00 L1056.50 666.04 L1057.50 665.82 L1058.50 665.63 L1059.50 665.73 L1060.00 666.00 L1060.50 666.09 L1061.50 665.97 L1062.50 665.85 L1063.50 665.92 L1064.50 666.11 L1065.50 666.13 L1066.50 665.97 L1067.50 665.93 L1068.50 666.04 L1069.50 666.24 L1070.50 666.45 L1071.50 666.45 L1072.50 666.28 L1073.50 666.17 L1074.50 665.98 L1075.50 665.69 L1076.50 665.51 L1077.50 665.46 L1078.50 665.43 L1079.50 665.29 L1080.50 664.96 L1081.50 664.64 L1082.50 664.66 L1082.80 665.01 L1083.50 665.29 L1084.50 665.34 L1085.50 665.35 L1086.50 665.47 L1087.50 665.57 L1088.50 665.42 L1089.50 665.19 L1090.50 665.15 L1091.50 665.17 L1092.50 665.03 L1093.50 664.85 L1094.50 664.75 L1095.50 664.71 L1096.50 664.69 L1097.50 664.71 L1098.50 664.78 L1099.50 664.68 L1100.50 664.50 L1101.50 664.42 L1102.50 664.52 L1103.50 664.75 L1104.50 664.87 L1105.50 664.80 L1105.60 664.79 L1106.50 664.80 L1107.50 664.78 L1108.50 664.86 L1109.50 665.04 L1110.50 665.07 L1111.50 664.91 L1112.50 664.67 L1113.50 664.32 L1114.50 663.87 L1115.50 663.56 L1116.50 663.56 L1117.50 663.98 L1118.50 664.61 L1119.50 664.98 L1120.50 664.95 L1121.50 664.72 L1122.50 664.45 L1123.50 664.21 L1124.50 664.13 L1125.50 664.27 L1126.50 664.51 L1127.50 664.63 L1128.40 664.52 L1128.50 664.33 L1129.50 664.13 L1130.50 663.99 L1131.50 663.97 L1132.50 664.05 L1133.50 664.07 L1134.50 664.09 L1135.50 664.22 L1136.50 664.36 L1137.50 664.36 L1138.50 664.26 L1139.50 664.23 L1140.50 664.32 L1141.50 664.47 L1142.50 664.64 L1143.50 664.77 L1144.50 664.68 L1145.50 664.38 L1146.50 664.27 L1147.50 664.48 L1148.50 664.47 L1149.50 663.96 L1150.50 663.38 L1151.20 663.18 L1151.50 663.36 L1152.50 663.53 L1153.50 663.46 L1154.50 663.27 L1155.50 663.28 L1156.50 663.37 L1157.50 663.28 L1158.50 663.14 L1159.50 663.08 L1160.50 663.03 L1161.50 662.97 L1162.50 662.92 L1163.50 662.91 L1164.50 662.97 L1165.50 663.01 L1166.50 662.92 L1167.50 662.79 L1168.50 662.72 L1169.50 662.63 L1170.50 662.43 L1171.50 662.05 L1172.50 661.65 L1173.50 661.59 L1174.00 661.96 L1174.50 662.35 L1175.50 662.40 L1176.50 662.29 L1177.50 662.41 L1178.50 662.65 L1179.50 662.62 L1180.50 662.28 L1181.50 661.95 L1182.50 662.06 L1183.50 662.58 L1184.50 662.92 L1185.50 662.78 L1186.50 662.52 L1187.50 662.42 L1188.50 662.37 L1189.50 662.13 L1190.50 661.77 L1191.50 661.62 L1192.50 661.86 L1193.50 662.25 L1194.50 662.41 L1195.50 662.33 L1196.50 662.21 L1196.80 662.04 L1197.50 661.72 L1198.50 661.39 L1199.50 661.29 L1200.50 661.53 L1201.50 661.78 L1202.50 661.79 L1203.50 661.71 L1204.50 661.60 L1205.50 661.45 L1206.50 661.45 L1207.50 661.58 L1208.50 661.71 L1209.50 661.74 L1210.50 661.65 L1211.50 661.60 L1212.50 661.59 L1213.50 661.44 L1214.50 661.14 L1215.50 660.92 L1216.50 660.91 L1217.50 660.99 L1218.50 661.10 L1219.50 661.35 L1220.50 661.56 L1221.50 661.41 L1222.50 661.00 L1223.50 660.73 L1224.50 660.79 L1225.50 661.03 L1226.50 661.23 L1227.50 661.36 L1228.50 661.29 L1229.50 660.92 L1230.50 660.57 L1231.50 660.53 L1232.50 660.64 L1233.50 660.73 L1234.50 660.78 L1235.50 660.79 L1236.50 660.59 L1237.50 660.17 L1238.50 659.91 L1239.50 659.95 L1240.50 660.00 L1241.50 659.96 L1242.30 659.89 L1242.50 659.84 L1243.50 659.92 L1244.50 660.10 L1245.50 660.22 L1246.50 660.19 L1247.50 660.04 L1248.50 659.92 L1249.50 659.92 L1250.50 660.05 L1251.50 660.12 L1252.50 660.00 L1253.50 659.92 L1254.50 660.11 L1255.50 660.45 L1256.50 660.59 L1257.50 660.42 L1258.50 660.22 L1259.50 660.24 L1260.00 660.30 L1260.50 660.08 L1261.50 659.78 L1262.50 659.70 L1263.50 659.87 L1264.50 660.17 L1265.50 660.31 L1266.50 660.16 L1267.50 659.98 L1268.50 660.08 L1269.50 660.49 L1270.50 660.91 L1271.50 660.94 L1272.50 660.42 L1273.50 659.79 L1274.50 659.58 L1275.50 659.72 L1276.50 659.86 L1277.50 659.84 L1278.50 659.75 L1279.50 659.74 L1280.50 659.78 L1281.50 659.59 L1282.50 659.08 L1282.80 658.75 L1283.50 658.95 L1284.50 659.32 L1285.50 659.37 L1286.50 659.18 L1287.50 659.13 L1288.50 659.25 L1289.50 659.24 L1290.50 659.04 L1291.50 658.87 L1292.50 658.86 L1293.50 658.99 L1294.50 659.07 L1295.50 658.82 L1296.50 658.34 L1297.50 658.13 L1298.50 658.23 L1299.50 658.24 L1300.50 658.12 L1301.50 658.08 L1302.50 658.15 L1303.50 658.22 L1304.50 658.33 L1305.50 658.54 L1305.60 658.81 L1306.50 658.84 L1307.50 658.64 L1308.50 658.30 L1309.50 658.01 L1310.50 657.93 L1311.50 657.99 L1312.50 658.03 L1313.50 657.97 L1314.50 657.83 L1315.50 657.60 L1316.50 657.30 L1317.00 657.07 L1317.50 657.06 L1318.50 657.23 L1319.50 657.36 L1320.50 657.36 L1321.50 657.34 L1322.50 657.42 L1323.50 657.55 L1324.50 657.60 L1325.50 657.53 L1326.50 657.50 L1327.50 657.55 L1328.40 657.53 L1328.50 657.38 L1329.50 657.29 L1330.50 657.35 L1331.50 657.54 L1332.50 657.81 L1333.50 658.04 L1334.10 658.17 L1334.50 658.22 L1335.50 658.03 L1336.50 657.70 L1337.50 657.26 L1338.50 656.77 L1339.50 656.36 L1339.80 656.43 L1340.50 657.02 L1341.50 657.46 L1342.50 657.89 L1343.50 658.28 L1344.50 658.45 L1344.60 658.49 L1345.50 658.75 L1346.50 658.94 L1347.50 658.97 L1348.50 658.86 L1349.50 658.72 L1350.50 658.71 L1351.20 658.84 L1351.50 658.98 L1352.50 659.03 L1353.50 659.05 L1354.50 659.04 L1355.50 658.96 L1356.50 658.86 L1357.50 658.81 L1358.50 658.73 L1359.50 658.62 L1360.30 658.58 L1360.50 658.63 L1361.50 658.42 L1362.50 658.03 L1363.50 657.62 L1364.50 657.31 L1365.50 657.10 L1366.50 656.93 L1367.30 656.81 L1367.50 656.80 L1368.50 656.60 L1369.50 656.39 L1370.50 656.20 L1371.50 655.98 L1372.50 655.67 L1373.50 655.30 L1374.00 655.18 L1374.50 655.12 L1375.50 654.44 L1376.50 653.87 L1377.50 653.72 L1378.50 653.43 L1379.50 653.04 L1380.50 652.74 L1381.50 652.63 L1382.50 652.63 L1383.50 652.67 L1384.50 652.71 L1385.50 652.64 L1386.50 652.45 L1387.50 652.27 L1388.50 652.07 L1389.50 651.79 L1390.50 651.48 L1391.50 651.16 L1392.50 650.79 L1393.50 650.49 L1394.50 650.43 L1395.50 650.54 L1396.50 650.69 L1396.80 650.82 L1397.50 650.84 L1398.50 650.74 L1399.30 650.63 L1399.50 650.61 L1400.00 650.58 L1400.50 650.66 L1401.50 651.29 L1402.30 651.87 L1402.50 651.96 L1403.50 651.98 L1404.50 651.85 L1405.50 651.92 L1405.80 652.05 L1406.50 652.52 L1407.50 653.41 L1408.50 654.63 L1409.50 655.99 L1410.50 657.28 L1411.50 658.32 L1411.60 658.40 L1412.50 659.01 L1413.50 659.60 L1414.50 660.30 L1415.50 661.35 L1416.50 662.61 L1417.40 663.60 L1417.50 663.69 L1418.50 664.49 L1419.50 665.17 L1420.50 665.89 L1421.40 666.70 L1421.50 666.81 L1422.50 668.22 L1423.50 669.74 L1423.70 670.00 L1424.50 670.96 L1425.50 672.09 L1426.50 673.11 L1427.50 673.98 L1427.80 674.20 L1428.50 674.69 L1429.50 675.33 L1430.50 675.95 L1431.50 676.39 L1431.80 676.41 L1432.50 676.59 L1433.50 676.92 L1434.50 677.16 L1435.50 677.22 L1435.90 677.22 L1436.50 677.24 L1437.50 677.03 L1438.50 676.68 L1439.50 676.31 L1440.50 675.97 L1441.50 675.60 L1442.50 675.09 L1443.50 674.50 L1444.50 673.85 L1445.10 673.40 L1445.50 673.05 L1446.50 671.87 L1447.50 670.40 L1448.00 669.60 L1448.50 668.70 L1449.50 666.52 L1450.50 664.08 L1451.50 661.64 L1452.10 660.30 L1452.50 659.44 L1453.50 657.32 L1454.40 655.70 L1454.50 655.55 L1455.50 654.37 L1456.50 653.33 L1457.30 652.20 L1457.50 651.82 L1458.50 649.19 L1459.00 647.60 L1459.50 645.75 L1460.50 641.50 L1460.70 640.70 L1461.50 638.15 L1462.50 634.00 L1463.30 624.50 L1463.50 622.44 L1464.20 615.80 L1464.50 613.22 L1464.80 610.00 L1465.50 588.54 L1466.50 544.72 L1466.80 536.00 L1467.50 524.15 L1468.50 511.28 L1469.00 502.00 L1469.50 481.80 L1470.20 458.50 L1470.50 461.23 L1471.50 494.23 L1471.90 509.00 L1472.50 527.33 L1473.40 564.00 L1473.50 571.60 L1473.90 610.00 L1474.50 629.81 L1474.60 633.10 L1475.20 656.30 L1475.50 662.38 L1476.30 673.60 L1476.50 676.17 L1477.50 687.41 L1477.80 690.00 L1478.50 695.18 L1479.00 697.50 L1479.50 698.67 L1480.50 700.25 L1481.30 701.10 L1481.50 701.29 L1482.50 702.21 L1483.50 703.05 L1484.50 703.77 L1485.50 704.34 L1486.50 704.80 L1487.50 705.23 L1487.70 705.32 L1488.50 705.44 L1489.50 705.59 L1490.50 705.71 L1491.50 705.76 L1492.50 705.83 L1493.50 705.97 L1494.50 706.10 L1495.50 706.24 L1496.50 706.39 L1497.50 706.51 L1498.50 706.58 L1499.50 706.62 L1500.00 706.56 L1500.50 706.55 L1501.50 706.67 L1502.50 706.80 L1503.50 706.87 L1504.00 706.84 L1504.50 706.79 L1505.50 706.77 L1506.50 706.78 L1507.50 706.82 L1508.50 706.86 L1509.50 706.88 L1510.50 706.86 L1511.50 706.83 L1512.50 706.86 L1513.50 706.93 L1514.50 707.00 L1515.50 707.01 L1516.50 707.02 L1517.50 707.01 L1518.50 706.92 L1519.50 706.82 L1520.50 706.83 L1521.50 706.95 L1522.50 707.07 L1523.50 707.11 L1524.50 707.10 L1525.50 707.09 L1526.50 707.15 L1527.50 707.22 L1528.50 707.30 L1529.50 707.36 L1530.50 707.37 L1531.50 707.38 L1532.50 707.39 L1533.50 707.35 L1534.50 707.28 L1535.50 707.22 L1536.50 707.11 L1537.50 707.00 L1538.50 706.97 L1539.50 707.00 L1540.50 707.04 L1541.50 707.09 L1542.50 707.14 L1543.50 707.15 L1544.50 707.12 L1545.50 707.04 L1546.50 706.92 L1547.50 706.87 L1548.50 706.92 L1549.50 707.01 L1550.50 707.09 L1551.50 707.14 L1552.50 707.20 L1553.50 707.24 L1554.50 707.19 L1555.50 707.04 L1556.50 706.90 L1557.50 706.88 L1558.50 707.00 L1559.50 707.16 L1560.50 707.22 L1561.50 707.23 L1562.50 707.21 L1563.50 707.13 L1564.50 707.11 L1565.50 707.21 L1566.50 707.28 L1567.50 707.25 L1568.50 707.21 L1569.50 707.22 L1570.50 707.22 L1571.50 707.22 L1572.50 707.23 L1573.50 707.20 L1574.50 707.14 L1575.50 707.09 L1576.50 707.07 L1577.50 707.07 L1578.50 707.14 L1579.50 707.23 L1580.50 707.26 L1581.50 707.26 L1582.50 707.26 L1583.50 707.24 L1584.50 707.20 L1585.50 707.18 L1586.50 707.16 L1587.50 707.14 L1588.50 707.22 L1589.50 707.34 L1590.50 707.38 L1591.50 707.36 L1592.50 707.38 L1593.50 707.44 L1594.50 707.44 L1595.50 707.33 L1596.50 707.21 L1597.50 707.27 L1598.50 707.41 L1599.50 707.43 L1600.00 707.31 L1600.50 707.21 L1601.50 707.20 L1602.50 707.22 L1603.50 707.23 L1604.50 707.28 L1605.50 707.36 L1606.50 707.39 L1607.50 707.31 L1608.50 707.17 L1609.50 707.08 L1610.50 707.11 L1611.50 707.19 L1612.50 707.29 L1613.50 707.42 L1614.50 707.49 L1615.50 707.47 L1616.50 707.47 L1617.50 707.51 L1618.50 707.50 L1619.50 707.43 L1620.50 707.40 L1621.50 707.42 L1622.50 707.46 L1623.50 707.52 L1624.50 707.55 L1625.50 707.52 L1626.50 707.50 L1627.50 707.54 L1628.50 707.58 L1629.50 707.59 L1630.50 707.60 L1631.50 707.61 L1632.50 707.58 L1633.50 707.51 L1634.50 707.44 L1635.50 707.36 L1636.50 707.30 L1637.50 707.31 L1638.50 707.41 L1639.50 707.54 L1640.50 707.64 L1641.50 707.70 L1642.50 707.68 L1643.50 707.59 L1644.50 707.48 L1645.50 707.42 L1646.50 707.45 L1647.50 707.53 L1648.50 707.58 L1649.50 707.59 L1650.50 707.61 L1651.50 707.66 L1652.50 707.68 L1653.50 707.67 L1654.50 707.66 L1655.50 707.63 L1656.50 707.58 L1657.50 707.56 L1658.50 707.60 L1659.50 707.63 L1660.50 707.62 L1661.50 707.63 L1662.50 707.67 L1663.50 707.74 L1664.50 707.78 L1665.50 707.79 L1666.50 707.76 L1667.50 707.78 L1668.50 707.85 L1669.50 707.86 L1670.50 707.81 L1671.50 707.78 L1672.50 707.75 L1673.50 707.71 L1674.50 707.73 L1675.50 707.81 L1676.50 707.91 L1677.50 707.99 L1678.50 708.02 L1679.50 707.95 L1680.50 707.84 L1681.50 707.75 L1682.00 707.68" fill="none" stroke="#0000FF" stroke-width="3.00" stroke-linejoin="round" stroke-linecap="round"/>
<path d="M169.50 413.17 L170.50 413.04 L171.50 412.90 L172.50 412.74 L173.50 412.48 L174.50 412.29 L175.50 412.38 L176.50 412.59 L177.50 412.60 L178.50 412.52 L179.50 412.55 L180.50 412.61 L181.50 412.57 L182.50 412.39 L183.50 412.23 L184.50 412.27 L185.50 412.51 L186.50 412.73 L187.50 412.66 L188.50 412.33 L189.50 412.06 L190.50 412.02 L191.50 412.13 L192.50 412.41 L192.80 412.81 L193.50 412.98 L194.50 412.82 L195.50 412.54 L196.50 412.26 L197.50 412.00 L198.50 411.92 L199.50 411.91 L200.50 411.67 L201.50 411.45 L202.50 411.77 L203.50 412.52 L204.50 413.02 L205.50 412.94 L206.50 412.59 L207.50 412.27 L208.50 412.03 L209.50 411.88 L210.50 411.84 L211.50 411.97 L212.50 412.22 L213.50 412.41 L214.50 412.53 L215.50 412.59 L215.60 412.60 L216.50 412.50 L217.50 412.21 L218.50 411.90 L219.50 411.82 L220.50 411.86 L221.50 411.82 L222.50 411.76 L223.50 411.83 L224.50 412.10 L225.50 412.45 L226.50 412.75 L227.50 412.83 L228.50 412.54 L229.50 412.09 L230.50 411.79 L231.50 411.72 L232.50 411.79 L233.50 411.89 L234.50 412.01 L235.50 412.27 L236.50 412.57 L237.50 412.62 L238.40 412.48 L238.50 412.33 L239.50 412.15 L240.50 411.94 L241.50 411.71 L242.50 411.61 L243.50 411.70 L244.50 411.69 L245.50 411.37 L246.50 410.94 L247.50 410.60 L248.50 410.47 L249.50 410.71 L250.50 411.19 L251.50 411.49 L252.50 411.37 L253.50 411.22 L254.50 411.32 L255.50 411.45 L256.50 411.49 L257.50 411.51 L258.50 411.52 L259.50 411.60 L260.50 411.68 L261.20 411.59 L261.50 411.33 L262.50 411.15 L263.50 411.20 L264.50 411.49 L265.50 411.78 L266.50 411.91 L267.50 411.90 L268.50 411.90 L269.50 411.87 L270.50 411.69 L271.50 411.48 L272.50 411.41 L273.50 411.54 L274.50 411.81 L275.50 411.93 L276.50 411.59 L277.50 411.07 L278.50 410.89 L279.50 411.16 L280.50 411.64 L281.50 411.89 L282.50 411.83 L283.50 411.74 L284.00 411.79 L284.50 411.93 L285.50 411.89 L286.50 411.58 L287.50 411.40 L288.50 411.55 L289.50 411.76 L290.50 411.77 L291.50 411.48 L292.50 411.02 L293.50 410.79 L294.50 410.81 L295.50 410.72 L296.50 410.56 L297.50 410.67 L298.50 410.98 L299.50 411.16 L300.50 411.12 L301.50 410.89 L302.50 410.47 L303.50 410.10 L304.50 409.94 L305.50 409.97 L306.50 410.09 L306.80 410.23 L307.50 410.38 L308.50 410.56 L309.50 410.86 L310.50 411.27 L311.50 411.58 L312.50 411.56 L313.50 411.27 L314.50 411.03 L315.50 411.07 L316.50 411.30 L317.50 411.37 L318.50 411.21 L319.50 411.03 L320.50 410.92 L321.50 410.87 L322.50 410.90 L323.50 410.90 L324.50 410.77 L325.50 410.54 L326.50 410.43 L327.50 410.48 L328.50 410.53 L329.50 410.51 L330.50 410.43 L331.50 410.40 L332.50 410.51 L333.50 410.89 L334.50 411.45 L335.50 411.86 L336.50 411.93 L337.50 411.77 L338.50 411.56 L339.50 411.29 L340.50 410.84 L341.50 410.39 L342.50 410.23 L343.50 410.35 L344.50 410.40 L345.50 410.21 L346.50 409.97 L347.50 409.81 L348.50 409.70 L349.50 409.60 L350.50 409.59 L351.50 409.55 L352.50 409.40 L353.50 409.47 L354.50 409.80 L355.50 410.00 L356.50 409.91 L357.50 409.77 L358.00 409.77 L358.50 409.83 L359.50 409.80 L360.50 409.61 L361.50 409.48 L362.50 409.67 L363.50 410.11 L364.50 410.48 L365.50 410.42 L366.50 409.94 L367.50 409.60 L368.50 409.80 L369.50 410.25 L370.00 410.52 L370.50 410.63 L371.50 410.59 L372.50 410.30 L373.50 409.98 L374.50 409.86 L375.50 410.02 L376.50 410.30 L377.50 410.35 L378.50 410.27 L379.50 410.32 L380.50 410.42 L381.50 410.39 L382.50 410.23 L383.50 410.06 L384.50 410.16 L385.50 410.65 L386.50 411.25 L387.50 411.41 L388.50 411.05 L389.50 410.76 L390.50 410.88 L391.50 411.27 L392.50 411.69 L392.80 411.84 L393.50 411.46 L394.50 410.77 L395.50 410.25 L396.50 410.12 L397.50 410.25 L398.50 410.53 L399.50 410.83 L400.50 410.91 L401.50 410.78 L402.50 410.74 L403.50 410.80 L404.50 410.65 L405.50 410.34 L406.50 410.19 L407.50 410.17 L408.50 410.20 L409.50 410.41 L410.50 410.77 L411.50 410.94 L412.50 410.70 L413.50 410.31 L414.50 410.15 L415.50 410.21 L416.50 410.29 L417.50 410.40 L417.90 410.50 L418.50 410.45 L419.50 410.37 L420.50 410.42 L421.50 410.52 L422.50 410.51 L423.50 410.43 L424.50 410.33 L425.50 410.23 L426.50 410.20 L427.50 410.25 L428.50 410.22 L429.50 409.94 L430.50 409.66 L431.50 409.70 L432.50 409.84 L433.50 409.82 L434.50 409.72 L435.50 409.61 L436.50 409.53 L437.50 409.58 L438.40 409.66 L438.50 409.55 L439.50 409.26 L440.50 409.19 L441.50 409.34 L442.50 409.46 L443.50 409.60 L444.50 409.60 L445.50 409.33 L446.50 409.30 L447.50 409.68 L448.50 409.98 L449.50 410.05 L450.50 410.00 L451.50 409.79 L452.50 409.49 L453.50 409.20 L454.50 409.09 L455.50 409.24 L456.50 409.47 L457.50 409.53 L458.50 409.34 L459.50 409.11 L460.50 409.17 L461.20 409.39 L461.50 409.44 L462.50 409.46 L463.50 409.60 L464.50 409.64 L465.50 409.36 L466.50 408.97 L467.50 408.86 L468.50 408.95 L469.50 408.86 L470.50 408.57 L471.50 408.46 L472.50 408.63 L473.50 408.89 L474.50 409.17 L475.50 409.45 L476.50 409.57 L477.50 409.66 L478.50 409.73 L479.50 409.57 L480.50 409.24 L481.50 408.92 L482.50 408.65 L483.50 408.47 L484.00 408.44 L484.50 408.50 L485.50 408.60 L486.50 408.64 L487.50 408.47 L488.50 408.23 L489.50 408.14 L490.50 408.11 L491.50 408.04 L492.50 407.96 L493.50 408.05 L494.50 408.26 L495.40 408.25 L495.50 407.93 L496.50 407.79 L497.50 407.97 L498.50 408.21 L499.50 408.36 L500.50 408.52 L501.50 408.62 L502.50 408.45 L503.50 408.12 L504.50 407.91 L505.50 407.87 L506.50 407.88 L507.50 407.91 L508.50 408.02 L509.50 408.09 L510.50 408.06 L511.50 408.08 L512.50 408.17 L513.50 408.08 L514.50 407.90 L515.50 407.96 L516.50 408.17 L517.50 408.17 L518.10 408.13 L518.50 408.29 L519.50 408.33 L520.50 408.08 L521.50 407.88 L522.50 407.96 L523.50 408.07 L524.50 408.04 L525.50 408.01 L526.50 408.00 L527.50 407.87 L528.50 407.72 L529.50 407.69 L530.50 407.74 L531.50 407.72 L532.50 407.53 L533.50 407.20 L534.50 406.97 L535.50 406.91 L536.50 406.78 L537.50 406.66 L538.50 406.78 L539.50 406.85 L540.50 406.58 L541.50 406.24 L542.50 406.17 L543.50 406.26 L544.50 406.29 L545.50 406.43 L546.50 406.83 L547.50 407.24 L548.50 407.37 L549.50 407.33 L550.50 407.37 L551.50 407.44 L552.30 407.39 L552.50 407.31 L553.50 407.42 L554.50 407.62 L555.50 407.64 L556.50 407.38 L557.50 407.07 L558.50 407.01 L559.50 407.19 L560.50 407.30 L561.50 407.10 L562.50 406.72 L563.50 406.62 L564.50 406.95 L565.50 407.45 L566.50 407.74 L567.50 407.75 L568.50 407.62 L569.50 407.48 L570.00 407.44 L570.50 407.44 L571.50 407.46 L572.50 407.57 L573.50 407.65 L574.50 407.45 L575.50 407.10 L576.50 406.98 L577.50 407.06 L578.50 406.96 L579.50 406.74 L580.50 406.77 L581.50 407.12 L582.50 407.33 L583.50 407.20 L584.50 407.04 L585.50 407.05 L586.50 407.13 L587.50 407.16 L588.50 407.16 L589.50 407.19 L590.50 407.27 L591.50 407.33 L592.50 407.28 L592.80 407.10 L593.50 406.96 L594.50 407.05 L595.50 407.32 L596.50 407.57 L597.50 407.68 L598.50 407.52 L599.50 407.19 L600.50 406.96 L601.50 406.85 L602.50 406.76 L603.50 406.73 L604.50 406.87 L605.50 407.22 L606.50 407.55 L607.50 407.58 L608.50 407.35 L609.50 407.04 L610.50 406.87 L611.50 406.98 L612.50 407.37 L613.50 407.81 L614.50 407.94 L615.50 407.69 L615.60 407.36 L616.50 407.16 L617.50 407.07 L618.50 406.83 L619.50 406.44 L620.50 406.24 L621.50 406.29 L622.50 406.37 L623.50 406.32 L624.50 406.19 L625.50 406.07 L626.50 406.20 L627.50 406.43 L628.50 406.30 L629.50 405.79 L630.50 405.41 L631.50 405.48 L632.50 405.72 L633.50 405.81 L634.50 405.86 L635.50 406.01 L636.50 406.00 L637.50 405.76 L638.40 405.62 L638.50 405.74 L639.50 405.88 L640.50 405.75 L641.50 405.45 L642.50 405.37 L643.50 405.57 L644.50 405.75 L645.50 405.79 L646.50 405.70 L647.50 405.48 L648.50 405.30 L649.50 405.49 L650.50 406.01 L651.50 406.35 L652.50 406.22 L653.50 405.83 L654.50 405.51 L655.50 405.39 L656.50 405.41 L657.50 405.55 L658.50 405.83 L659.50 406.21 L660.50 406.46 L661.20 406.44 L661.50 406.33 L662.50 406.34 L663.50 406.49 L664.50 406.40 L665.50 405.98 L666.50 405.68 L667.50 405.67 L668.50 405.67 L669.50 405.62 L670.50 405.65 L671.50 405.73 L672.50 405.67 L673.50 405.33 L674.50 404.80 L675.50 404.33 L676.50 404.15 L677.50 404.31 L678.50 404.52 L679.50 404.63 L680.50 404.85 L681.50 405.19 L682.50 405.45 L683.50 405.56 L684.00 405.50 L684.50 405.22 L685.50 404.89 L686.50 404.86 L687.50 405.05 L688.50 405.04 L689.50 404.88 L690.50 404.91 L691.50 405.08 L692.50 405.06 L693.50 404.82 L694.50 404.55 L695.50 404.43 L696.50 404.42 L697.50 404.46 L698.50 404.43 L699.50 404.34 L700.50 404.35 L701.50 404.50 L702.50 404.75 L703.50 405.01 L704.50 405.03 L705.50 404.86 L706.50 404.78 L706.80 404.79 L707.50 404.77 L708.50 404.68 L709.50 404.56 L710.50 404.53 L711.50 404.70 L712.50 404.97 L713.50 405.09 L714.50 404.90 L715.50 404.56 L716.50 404.41 L717.50 404.52 L718.50 404.88 L719.50 405.24 L720.50 405.23 L721.50 404.87 L722.50 404.64 L723.50 404.77 L724.50 404.83 L725.50 404.41 L726.50 403.83 L727.50 403.63 L728.50 403.88 L729.50 404.22 L730.50 404.32 L731.50 404.35 L732.50 404.50 L733.50 404.55 L734.50 404.38 L735.50 404.23 L736.50 404.20 L737.50 404.04 L738.50 403.83 L739.50 403.98 L740.50 404.35 L741.50 404.39 L742.50 404.00 L743.50 403.58 L744.50 403.51 L745.50 403.76 L746.50 403.94 L747.50 403.86 L748.50 403.86 L749.50 404.15 L750.50 404.28 L751.50 403.93 L752.30 403.42 L752.50 403.23 L753.50 403.32 L754.50 403.47 L755.50 403.36 L756.50 402.99 L757.50 402.70 L758.50 402.58 L759.50 402.46 L760.00 402.39 L760.50 402.64 L761.50 403.37 L762.50 403.94 L763.40 404.33 L763.50 404.40 L764.50 404.01 L765.50 403.47 L766.50 402.87 L767.50 402.29 L768.50 401.78 L769.50 401.48 L770.50 401.55 L771.50 401.83 L772.50 401.97 L773.50 401.81 L774.50 401.52 L775.50 401.43 L776.00 401.56 L776.50 401.77 L777.50 402.03 L778.50 402.22 L779.50 402.35 L780.50 402.52 L781.50 402.81 L782.50 403.12 L783.50 403.42 L783.90 403.53 L784.50 403.27 L785.50 402.86 L786.50 402.64 L787.50 402.58 L788.50 402.55 L789.50 402.92 L790.50 403.68 L791.30 404.36 L791.50 404.12 L792.50 403.61 L793.50 403.27 L794.50 403.03 L795.50 402.87 L796.50 402.79 L797.00 402.80 L797.50 402.92 L798.50 403.12 L799.50 403.27 L800.50 403.43 L801.50 403.67 L802.50 403.97 L803.50 404.27 L804.50 404.55 L805.50 404.84 L805.60 404.93 L806.50 404.07 L807.50 403.41 L808.40 403.35 L808.50 403.36 L809.50 403.41 L810.50 403.31 L811.50 403.03 L812.50 402.91 L813.50 403.10 L814.50 403.45 L815.50 403.80 L816.50 403.94 L817.00 403.77 L817.50 403.42 L818.50 403.08 L819.50 402.91 L820.50 402.93 L821.00 403.11 L821.50 403.25 L822.50 402.83 L823.50 402.19 L824.40 401.39 L824.50 401.16 L825.50 400.99 L826.50 400.69 L827.50 400.44 L828.50 400.75 L829.50 401.38 L830.50 401.37 L831.50 400.66 L832.50 399.95 L833.50 399.17 L834.10 398.70 L834.50 398.39 L835.50 397.57 L836.50 396.63 L837.50 395.50 L838.10 394.70 L838.50 394.07 L839.50 392.02 L840.50 389.49 L840.90 388.40 L841.50 386.19 L842.50 383.00 L843.50 382.19 L844.20 382.15 L844.50 382.17 L845.50 382.79 L846.20 383.60 L846.50 384.07 L847.50 386.52 L847.90 387.50 L848.50 388.81 L849.50 390.91 L850.50 393.06 L851.20 394.70 L851.50 395.49 L852.50 398.60 L853.50 401.50 L854.00 402.50 L854.50 403.24 L855.50 404.50 L856.50 405.38 L856.90 405.67 L857.50 406.04 L858.50 406.41 L859.50 406.62 L860.00 406.63 L860.50 406.61 L861.50 406.69 L862.50 406.71 L863.40 406.75 L863.50 407.07 L864.50 407.36 L865.50 407.21 L866.50 406.84 L867.50 406.64 L868.50 406.63 L869.50 406.70 L870.50 406.79 L871.00 406.75 L871.50 406.44 L872.50 406.16 L873.50 406.26 L874.50 406.49 L875.50 406.43 L876.50 406.11 L877.50 405.81 L878.50 405.78 L879.50 405.87 L880.50 405.77 L881.50 405.55 L882.50 405.50 L882.80 405.56 L883.50 405.65 L884.50 405.82 L885.50 406.00 L886.50 406.16 L887.50 406.43 L888.50 406.83 L889.50 407.10 L890.50 407.10 L890.80 406.93 L891.50 406.82 L892.50 406.79 L893.50 406.84 L894.50 406.91 L895.50 406.83 L896.50 406.66 L897.50 406.56 L898.50 406.50 L899.50 406.38 L900.50 406.33 L901.50 406.36 L902.50 406.27 L903.50 406.01 L904.50 405.76 L905.50 405.56 L905.60 405.47 L906.50 405.49 L907.50 405.64 L908.50 405.73 L909.50 405.84 L910.50 406.08 L911.50 406.34 L912.50 406.46 L913.50 406.32 L914.50 405.94 L915.50 405.59 L916.50 405.61 L917.50 405.96 L918.50 406.17 L919.50 405.96 L920.50 405.53 L921.50 405.20 L922.50 405.19 L923.50 405.48 L924.50 405.77 L925.50 405.88 L926.50 405.86 L927.50 405.70 L928.40 405.41 L928.50 405.14 L929.50 405.06 L930.50 405.23 L931.50 405.47 L932.50 405.45 L933.50 405.18 L934.50 404.97 L935.50 405.06 L936.50 405.32 L937.50 405.45 L938.50 405.39 L939.50 405.32 L940.50 405.31 L941.50 405.44 L942.50 405.88 L943.50 406.37 L944.50 406.46 L945.50 406.23 L946.50 406.11 L947.50 406.25 L948.50 406.45 L949.50 406.49 L950.50 406.38 L951.50 406.31 L952.50 406.35 L953.50 406.35 L954.50 406.28 L955.50 406.25 L955.70 406.15 L956.50 405.82 L957.50 405.41 L958.50 404.97 L959.50 404.48 L960.50 403.98 L961.50 403.62 L962.50 403.45 L962.60 403.50 L963.50 403.49 L964.50 403.49 L965.50 403.44 L966.50 403.42 L967.50 403.45 L968.50 403.50 L969.50 403.76 L970.50 404.25 L971.50 404.56 L972.50 404.56 L973.50 404.50 L974.00 404.47 L974.50 404.48 L975.50 404.55 L976.50 404.54 L977.50 404.40 L978.50 404.25 L979.50 404.14 L980.50 404.13 L981.50 404.34 L982.50 404.64 L983.50 404.77 L984.50 404.61 L985.40 404.34 L985.50 404.08 L986.50 403.78 L987.50 403.59 L988.50 403.74 L989.50 404.17 L990.50 404.64 L991.50 404.91 L992.50 404.92 L993.50 404.77 L994.50 404.58 L995.50 404.38 L996.50 404.26 L997.50 404.19 L998.50 404.02 L999.50 403.89 L1000.50 404.07 L1001.50 404.41 L1002.50 404.72 L1003.50 404.92 L1004.50 404.80 L1005.50 404.40 L1006.50 404.10 L1007.50 404.11 L1008.10 404.36 L1008.50 404.71 L1009.50 404.93 L1010.50 404.89 L1011.50 404.68 L1012.50 404.42 L1013.50 404.32 L1014.50 404.52 L1015.50 404.80 L1016.50 404.73 L1017.50 404.26 L1018.50 403.67 L1019.50 403.28 L1020.50 403.23 L1021.50 403.38 L1022.50 403.56 L1023.50 403.69 L1024.50 403.75 L1025.50 403.81 L1026.50 403.84 L1027.50 403.78 L1028.50 403.69 L1029.50 403.61 L1030.50 403.50 L1031.00 403.36 L1031.50 403.26 L1032.50 403.23 L1033.50 403.24 L1034.50 403.15 L1035.50 402.99 L1036.50 402.95 L1037.50 403.11 L1038.50 403.25 L1039.50 403.29 L1040.50 403.29 L1041.50 403.28 L1042.50 403.18 L1043.50 402.88 L1044.50 402.36 L1045.50 401.90 L1046.50 401.75 L1047.50 401.84 L1048.50 402.04 L1049.50 402.24 L1050.50 402.32 L1051.50 402.31 L1052.50 402.34 L1053.50 402.44 L1053.70 402.45 L1054.50 402.32 L1055.50 402.15 L1056.50 402.11 L1057.50 402.28 L1058.50 402.51 L1059.50 402.64 L1060.00 402.62 L1060.50 402.60 L1061.50 402.45 L1062.50 402.06 L1063.50 401.77 L1064.50 401.87 L1065.50 402.19 L1066.50 402.41 L1067.50 402.49 L1068.50 402.56 L1069.50 402.59 L1070.50 402.44 L1071.50 402.21 L1072.50 402.14 L1073.50 402.25 L1074.50 402.34 L1075.50 402.30 L1076.50 402.30 L1077.50 402.42 L1078.50 402.51 L1079.50 402.53 L1080.50 402.47 L1081.50 402.36 L1082.50 402.35 L1082.80 402.40 L1083.50 402.32 L1084.50 402.12 L1085.50 402.01 L1086.50 402.09 L1087.50 402.35 L1088.50 402.57 L1089.50 402.44 L1090.50 401.97 L1091.50 401.67 L1092.50 401.69 L1093.50 401.70 L1094.50 401.63 L1095.50 401.62 L1096.50 401.70 L1097.50 401.90 L1098.50 402.28 L1099.50 402.58 L1100.50 402.42 L1101.50 401.83 L1102.50 401.32 L1103.50 401.33 L1104.50 401.72 L1105.50 401.96 L1105.60 401.87 L1106.50 401.61 L1107.50 401.32 L1108.50 400.97 L1109.50 400.65 L1110.50 400.67 L1111.50 401.12 L1112.50 401.63 L1113.50 401.77 L1114.50 401.57 L1115.50 401.43 L1116.50 401.42 L1117.50 401.30 L1118.50 401.15 L1119.50 401.23 L1120.50 401.53 L1121.50 401.70 L1122.50 401.51 L1123.50 401.13 L1124.50 400.88 L1125.50 400.90 L1126.50 401.03 L1127.50 401.00 L1128.40 400.80 L1128.50 400.56 L1129.50 400.36 L1130.50 400.54 L1131.50 401.19 L1132.50 401.86 L1133.50 402.05 L1134.50 401.78 L1135.50 401.32 L1136.50 400.87 L1137.50 400.70 L1138.50 400.87 L1139.50 401.17 L1140.50 401.34 L1141.50 401.12 L1142.50 400.63 L1143.50 400.35 L1144.50 400.38 L1145.50 400.44 L1146.50 400.33 L1147.50 400.20 L1148.50 400.32 L1149.50 400.62 L1150.50 400.65 L1151.20 400.35 L1151.50 400.27 L1152.50 400.70 L1153.50 401.16 L1154.50 401.05 L1155.50 400.46 L1156.50 399.92 L1157.50 399.85 L1158.50 400.10 L1159.50 400.30 L1160.50 400.41 L1161.50 400.56 L1162.50 400.63 L1163.50 400.49 L1164.50 400.24 L1165.50 399.91 L1166.50 399.48 L1167.50 399.17 L1168.50 399.25 L1169.50 399.58 L1170.50 399.82 L1171.50 399.89 L1172.50 400.01 L1173.50 400.25 L1174.00 400.34 L1174.50 400.02 L1175.50 399.55 L1176.50 399.34 L1177.50 399.46 L1178.50 399.67 L1179.50 399.68 L1180.50 399.51 L1181.50 399.25 L1182.50 399.03 L1183.50 398.98 L1184.50 399.11 L1185.50 399.30 L1186.50 399.46 L1187.50 399.47 L1188.50 399.36 L1189.50 399.27 L1190.50 399.20 L1191.50 399.16 L1192.50 399.15 L1193.50 399.01 L1194.50 398.83 L1195.50 398.83 L1196.50 398.87 L1196.80 398.77 L1197.50 398.67 L1198.50 398.65 L1199.50 398.51 L1200.50 398.24 L1201.50 398.16 L1202.50 398.28 L1203.50 398.38 L1204.50 398.47 L1205.50 398.56 L1206.50 398.53 L1207.50 398.42 L1208.50 398.37 L1209.50 398.46 L1210.50 398.61 L1211.50 398.70 L1212.50 398.80 L1213.50 398.98 L1214.50 399.12 L1215.50 399.03 L1216.50 398.70 L1217.50 398.40 L1218.50 398.43 L1219.50 398.80 L1220.50 399.18 L1221.50 399.25 L1222.50 399.08 L1223.50 398.87 L1224.50 398.65 L1225.50 398.45 L1226.50 398.36 L1227.50 398.51 L1228.50 398.87 L1229.50 399.10 L1230.50 398.99 L1231.50 398.78 L1232.50 398.61 L1233.50 398.41 L1234.50 398.23 L1235.50 398.16 L1236.50 398.32 L1237.50 398.55 L1238.50 398.49 L1239.50 398.07 L1240.50 397.62 L1241.50 397.42 L1242.30 397.40 L1242.50 397.37 L1243.50 397.31 L1244.50 397.28 L1245.50 397.20 L1246.50 397.09 L1247.50 396.92 L1248.50 396.69 L1249.50 396.63 L1250.50 396.74 L1251.50 396.73 L1252.50 396.75 L1253.50 396.95 L1254.50 397.05 L1255.50 396.93 L1256.50 396.82 L1257.50 396.82 L1258.50 396.74 L1259.50 396.48 L1260.00 396.21 L1260.50 396.05 L1261.50 395.88 L1262.50 395.75 L1263.50 395.80 L1264.50 396.10 L1265.50 396.58 L1266.50 397.11 L1267.50 397.50 L1268.50 397.58 L1269.50 397.24 L1270.50 396.76 L1271.50 396.52 L1272.50 396.47 L1273.50 396.28 L1274.50 396.04 L1275.50 396.08 L1276.50 396.31 L1277.50 396.50 L1278.50 396.69 L1279.50 396.84 L1280.50 396.71 L1281.50 396.28 L1282.50 395.90 L1282.80 395.89 L1283.50 396.30 L1284.50 396.77 L1285.50 396.86 L1286.50 396.62 L1287.50 396.38 L1288.50 396.28 L1289.50 396.20 L1290.50 396.04 L1291.50 395.89 L1292.50 395.65 L1293.50 395.29 L1294.50 395.00 L1295.50 394.89 L1296.50 394.96 L1297.50 395.11 L1298.50 395.19 L1299.50 395.09 L1300.50 394.70 L1301.00 394.27 L1301.50 394.04 L1302.50 394.07 L1303.50 394.25 L1304.50 394.66 L1305.50 395.36 L1305.60 396.00 L1306.50 396.20 L1307.50 396.03 L1308.50 395.79 L1309.50 395.62 L1310.50 395.51 L1311.50 395.42 L1312.50 395.30 L1313.50 395.23 L1314.50 395.34 L1315.50 395.63 L1316.50 395.82 L1317.00 395.54 L1317.50 395.02 L1318.50 394.64 L1319.50 394.43 L1320.50 394.22 L1321.50 393.93 L1322.50 393.66 L1323.50 393.74 L1323.80 394.08 L1324.50 394.10 L1325.50 393.88 L1326.50 393.77 L1327.50 393.93 L1328.50 394.29 L1329.50 394.60 L1330.50 394.61 L1331.50 394.41 L1332.50 394.35 L1333.50 394.53 L1334.50 394.84 L1335.50 395.10 L1336.50 395.08 L1337.50 394.71 L1338.50 394.38 L1339.50 394.42 L1339.80 394.66 L1340.50 395.17 L1341.50 395.37 L1342.50 395.53 L1343.50 395.61 L1344.50 395.64 L1345.50 395.66 L1346.50 395.69 L1347.50 395.79 L1348.50 396.07 L1348.90 396.33 L1349.50 396.31 L1350.50 396.10 L1351.50 395.94 L1352.50 395.89 L1353.50 395.89 L1354.50 395.83 L1355.50 395.63 L1356.50 395.42 L1357.50 395.28 L1358.50 395.20 L1359.10 395.20 L1359.50 395.23 L1360.50 395.09 L1361.50 394.86 L1362.50 394.61 L1363.50 394.33 L1364.50 393.98 L1365.50 393.62 L1366.50 393.30 L1367.30 393.12 L1367.50 393.19 L1368.50 393.22 L1369.50 393.35 L1370.50 393.46 L1371.50 393.42 L1372.50 393.24 L1373.50 393.04 L1374.00 392.94 L1374.50 392.81 L1375.50 392.44 L1376.50 391.99 L1377.50 391.51 L1378.50 391.04 L1379.50 390.69 L1379.70 390.71 L1380.50 390.56 L1381.50 390.34 L1382.50 390.14 L1383.50 389.97 L1384.50 389.81 L1385.50 389.60 L1386.50 389.36 L1387.50 389.26 L1388.50 389.28 L1389.50 389.30 L1390.50 389.20 L1391.00 389.07 L1391.50 388.88 L1392.50 388.64 L1393.50 388.42 L1394.50 388.18 L1395.50 387.99 L1396.50 387.95 L1397.50 388.09 L1398.50 388.31 L1399.50 388.42 L1400.00 388.35 L1400.50 388.33 L1401.50 387.95 L1401.70 388.13 L1402.50 388.37 L1403.50 389.23 L1404.00 389.63 L1404.50 389.81 L1405.50 389.94 L1406.50 390.05 L1406.90 390.11 L1407.50 390.28 L1408.50 390.85 L1409.50 391.69 L1410.50 392.68 L1411.50 393.70 L1411.60 393.80 L1412.50 394.91 L1413.50 396.39 L1414.50 397.72 L1415.00 398.20 L1415.50 398.54 L1416.50 399.05 L1417.40 399.60 L1417.50 399.67 L1418.50 400.51 L1419.50 401.50 L1420.50 402.61 L1421.50 403.78 L1422.50 404.99 L1423.50 406.18 L1424.30 407.10 L1424.50 407.33 L1425.50 408.51 L1426.50 409.70 L1427.50 410.80 L1427.80 411.10 L1428.50 411.81 L1429.50 412.85 L1430.50 413.81 L1431.50 414.51 L1432.40 414.71 L1432.50 414.91 L1433.50 415.26 L1434.50 415.54 L1435.50 415.67 L1436.00 415.53 L1436.50 415.27 L1437.50 415.04 L1438.50 414.79 L1439.30 414.58 L1439.50 414.57 L1440.50 414.16 L1441.50 413.45 L1442.50 412.57 L1443.50 411.60 L1444.00 411.10 L1444.50 410.56 L1445.50 409.28 L1446.50 407.80 L1447.50 406.21 L1448.00 405.40 L1448.50 404.56 L1449.50 402.75 L1450.50 400.81 L1451.50 398.81 L1452.00 397.80 L1452.50 396.76 L1453.50 394.56 L1454.50 392.35 L1455.50 390.30 L1456.50 388.58 L1457.50 386.88 L1457.80 386.30 L1458.50 384.87 L1459.50 382.55 L1460.20 380.50 L1460.50 379.44 L1461.50 374.75 L1461.90 372.40 L1462.50 367.68 L1463.00 363.10 L1463.50 358.59 L1464.20 351.60 L1464.50 348.34 L1465.10 340.00 L1465.50 328.37 L1466.50 285.02 L1466.80 276.00 L1467.50 264.03 L1468.50 251.25 L1469.00 242.00 L1469.50 221.80 L1470.20 198.50 L1470.50 201.23 L1471.50 234.23 L1471.90 249.00 L1472.50 269.11 L1473.40 304.00 L1473.50 308.50 L1474.30 352.00 L1474.50 368.73 L1474.60 374.70 L1475.50 392.10 L1476.50 413.69 L1476.90 420.00 L1477.50 426.32 L1478.50 433.00 L1479.50 435.89 L1480.40 437.50 L1480.50 437.65 L1481.50 439.07 L1482.50 440.33 L1483.50 441.39 L1484.50 442.24 L1485.50 442.84 L1485.90 443.03 L1486.50 443.24 L1487.50 443.49 L1488.50 443.66 L1489.50 443.81 L1490.50 444.00 L1491.50 444.24 L1492.50 444.46 L1493.50 444.59 L1494.50 444.65 L1495.00 444.67 L1495.50 444.73 L1496.50 444.84 L1497.50 444.94 L1498.50 445.05 L1499.50 445.18 L1500.50 445.30 L1501.50 445.39 L1502.50 445.43 L1503.50 445.44 L1504.00 445.41 L1504.50 445.39 L1505.50 445.38 L1506.50 445.40 L1507.50 445.41 L1508.50 445.43 L1509.50 445.48 L1510.50 445.53 L1511.50 445.48 L1512.50 445.35 L1513.50 445.32 L1514.50 445.43 L1515.50 445.55 L1516.50 445.57 L1517.50 445.59 L1518.50 445.66 L1519.50 445.73 L1520.50 445.73 L1521.50 445.66 L1522.50 445.56 L1523.50 445.54 L1524.50 445.58 L1525.50 445.61 L1526.50 445.58 L1527.50 445.54 L1528.50 445.57 L1529.50 445.62 L1530.50 445.63 L1531.50 445.57 L1532.50 445.49 L1533.50 445.44 L1534.50 445.47 L1535.50 445.54 L1536.50 445.59 L1537.50 445.55 L1538.50 445.49 L1539.50 445.48 L1540.50 445.49 L1541.50 445.51 L1542.50 445.57 L1543.50 445.64 L1544.50 445.68 L1545.50 445.68 L1546.50 445.65 L1547.50 445.63 L1548.50 445.61 L1549.50 445.56 L1550.50 445.42 L1551.50 445.28 L1552.50 445.26 L1553.50 445.36 L1554.50 445.51 L1555.50 445.59 L1556.50 445.58 L1557.50 445.57 L1558.50 445.62 L1559.50 445.71 L1560.50 445.79 L1561.50 445.80 L1562.50 445.75 L1563.50 445.71 L1564.50 445.66 L1565.50 445.58 L1566.50 445.50 L1567.50 445.43 L1568.50 445.39 L1569.50 445.39 L1570.50 445.45 L1571.50 445.51 L1572.50 445.52 L1573.50 445.51 L1574.50 445.53 L1575.50 445.58 L1576.50 445.62 L1577.50 445.64 L1578.50 445.67 L1579.50 445.72 L1580.50 445.73 L1581.50 445.67 L1582.50 445.58 L1583.50 445.51 L1584.50 445.49 L1585.50 445.55 L1586.50 445.67 L1587.50 445.71 L1588.50 445.66 L1589.50 445.58 L1590.50 445.52 L1591.50 445.45 L1592.50 445.42 L1593.50 445.41 L1594.50 445.44 L1595.50 445.53 L1596.50 445.60 L1597.50 445.57 L1598.50 445.47 L1599.50 445.38 L1600.00 445.39 L1600.50 445.50 L1601.50 445.59 L1602.50 445.61 L1603.50 445.65 L1604.50 445.75 L1605.50 445.77 L1606.50 445.66 L1607.50 445.57 L1608.50 445.60 L1609.50 445.64 L1610.50 445.59 L1611.50 445.54 L1612.50 445.54 L1613.50 445.58 L1614.50 445.58 L1615.50 445.53 L1616.50 445.52 L1617.50 445.60 L1618.50 445.76 L1619.50 445.91 L1620.50 445.97 L1621.50 445.92 L1622.50 445.82 L1623.50 445.74 L1624.50 445.67 L1625.50 445.59 L1626.50 445.56 L1627.50 445.64 L1628.50 445.78 L1629.50 445.85 L1630.50 445.81 L1631.50 445.71 L1632.50 445.63 L1633.50 445.62 L1634.50 445.62 L1635.50 445.54 L1636.50 445.43 L1637.50 445.44 L1638.50 445.57 L1639.50 445.68 L1640.50 445.75 L1641.50 445.81 L1642.50 445.81 L1643.50 445.76 L1644.50 445.70 L1645.50 445.69 L1646.50 445.77 L1647.50 445.87 L1648.50 445.89 L1649.50 445.82 L1650.50 445.75 L1651.50 445.69 L1652.50 445.63 L1653.50 445.62 L1654.50 445.68 L1655.50 445.69 L1656.50 445.57 L1657.50 445.44 L1658.50 445.42 L1659.50 445.53 L1660.50 445.65 L1661.50 445.69 L1662.50 445.69 L1663.50 445.72 L1664.50 445.73 L1665.50 445.69 L1666.50 445.62 L1667.50 445.58 L1668.50 445.60 L1669.50 445.64 L1670.50 445.65 L1671.50 445.63 L1672.50 445.61 L1673.50 445.64 L1674.50 445.71 L1675.50 445.78 L1676.50 445.85 L1677.50 445.90 L1678.50 445.92 L1679.50 445.87 L1680.50 445.73 L1681.50 445.57 L1682.00 445.48" fill="none" stroke="#008000" stroke-width="3.00" stroke-linejoin="round" stroke-linecap="round"/>
<path d="M168.80 32.30H1682.10 M168.80 32.30V1147.80 M1682.10 32.30V1147.80 M166.65 1147.80H1684.25" fill="none" stroke="#000" stroke-width="4.30" stroke-linecap="butt"/>
<line x1="168.80" y1="1147.80" x2="168.80" y2="1170.10" stroke="#000" stroke-width="4.30"/>
<text transform="translate(168.80 1237.00) scale(1 1.040)" x="-54.06" font-size="64.80" font-weight="bold" fill="#000">800</text>
<line x1="294.91" y1="1147.80" x2="294.91" y2="1159.30" stroke="#000" stroke-width="4.30"/>
<line x1="421.02" y1="1147.80" x2="421.02" y2="1170.10" stroke="#000" stroke-width="4.30"/>
<text transform="translate(421.02 1237.00) scale(1 1.040)" x="-54.06" font-size="64.80" font-weight="bold" fill="#000">700</text>
<line x1="547.12" y1="1147.80" x2="547.12" y2="1159.30" stroke="#000" stroke-width="4.30"/>
<line x1="673.23" y1="1147.80" x2="673.23" y2="1170.10" stroke="#000" stroke-width="4.30"/>
<text transform="translate(673.23 1237.00) scale(1 1.040)" x="-54.06" font-size="64.80" font-weight="bold" fill="#000">600</text>
<line x1="799.34" y1="1147.80" x2="799.34" y2="1159.30" stroke="#000" stroke-width="4.30"/>
<line x1="925.45" y1="1147.80" x2="925.45" y2="1170.10" stroke="#000" stroke-width="4.30"/>
<text transform="translate(925.45 1237.00) scale(1 1.040)" x="-54.06" font-size="64.80" font-weight="bold" fill="#000">500</text>
<line x1="1051.56" y1="1147.80" x2="1051.56" y2="1159.30" stroke="#000" stroke-width="4.30"/>
<line x1="1177.67" y1="1147.80" x2="1177.67" y2="1170.10" stroke="#000" stroke-width="4.30"/>
<text transform="translate(1177.67 1237.00) scale(1 1.040)" x="-54.06" font-size="64.80" font-weight="bold" fill="#000">400</text>
<line x1="1303.77" y1="1147.80" x2="1303.77" y2="1159.30" stroke="#000" stroke-width="4.30"/>
<line x1="1429.88" y1="1147.80" x2="1429.88" y2="1170.10" stroke="#000" stroke-width="4.30"/>
<text transform="translate(1429.88 1237.00) scale(1 1.040)" x="-54.06" font-size="64.80" font-weight="bold" fill="#000">300</text>
<line x1="1555.99" y1="1147.80" x2="1555.99" y2="1159.30" stroke="#000" stroke-width="4.30"/>
<line x1="1682.10" y1="1147.80" x2="1682.10" y2="1170.10" stroke="#000" stroke-width="4.30"/>
<text transform="translate(1682.10 1237.00) scale(1 1.040)" x="-54.06" font-size="64.80" font-weight="bold" fill="#000">200</text>
<text transform="translate(623.10 1329.50)" font-size="75.75" font-weight="bold" fill="#000">Binding Energy (eV)</text>
<text transform="translate(80.60 850.10) rotate(-90)" font-size="75.96" font-weight="bold" fill="#000">Intensity (a.u.)</text>
<text transform="translate(184.60 378.00)" font-size="53.71" font-weight="bold" fill="#008000" clip-path="url(#clip0)"><tspan dx="0.30">1</tspan><tspan dx="-0.30">20s of candle sooting</tspan></text>
<text transform="translate(200.00 632.00)" font-size="53.75" font-weight="bold" fill="#0000FF">60s of candle sooting</text>
<text transform="translate(194.20 890.80)" font-size="53.74" font-weight="bold" fill="#FF0000">20s of candle sooting</text>
<text transform="translate(200.80 1068.90)" font-size="53.80" font-weight="bold" fill="#000">unmodified</text>
<text transform="translate(795.60 285.80) scale(1 1.030)" font-size="60.30" font-weight="normal" fill="#000" clip-path="url(#clip1)">O <tspan dx="1.60">1</tspan><tspan font-style="italic" dx="-1.60">s</tspan></text>
<text transform="translate(1417.70 99.80) scale(1 1.030)" font-size="60.30" font-weight="normal" fill="#000" clip-path="url(#clip2)">C <tspan dx="1.60">1</tspan><tspan font-style="italic" dx="-1.60">s</tspan></text>
<line x1="844.10" y1="323.50" x2="844.10" y2="347.00" stroke="#000" stroke-width="1.8"/><polygon points="836.80,346.00 851.40,346.00 844.10,374.20" fill="#000" stroke="#000" stroke-width="1" stroke-linejoin="round"/>
<line x1="1468.70" y1="121.50" x2="1468.70" y2="148.60" stroke="#000" stroke-width="1.8"/><polygon points="1461.40,147.60 1476.00,147.60 1468.70,175.60" fill="#000" stroke="#000" stroke-width="1" stroke-linejoin="round"/>
</svg>
</body></html>
